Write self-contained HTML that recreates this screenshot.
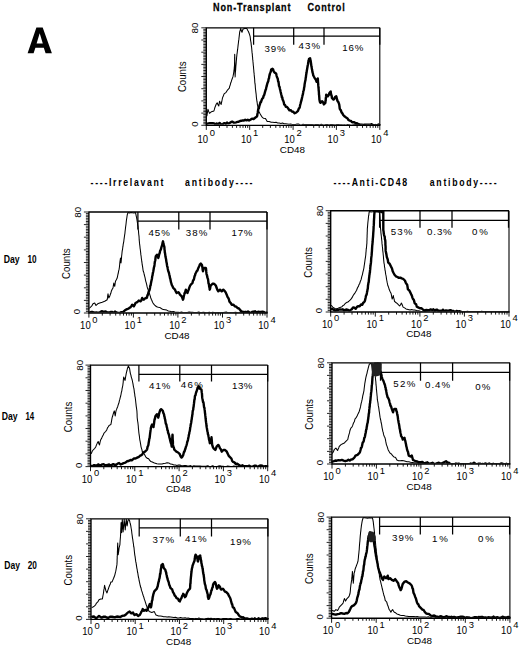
<!DOCTYPE html>
<html><head><meta charset="utf-8"><style>
html,body{margin:0;padding:0;background:#fff;}
svg{display:block;}
text{font-family:"Liberation Sans", sans-serif;fill:#000;}
</style></head><body>
<svg width="520" height="648" viewBox="0 0 520 648">
<rect width="520" height="648" fill="#fff"/>
<defs><clipPath id="cp0"><rect x="205.3" y="27.6" width="175.5" height="97.2"/></clipPath><clipPath id="cp1"><rect x="87.9" y="211.8" width="180.1" height="100.7"/></clipPath><clipPath id="cp2"><rect x="329.7" y="210.5" width="180.3" height="101.0"/></clipPath><clipPath id="cp3"><rect x="89.5" y="364.9" width="179.2" height="101.2"/></clipPath><clipPath id="cp4"><rect x="331.0" y="362.6" width="179.8" height="100.9"/></clipPath><clipPath id="cp5"><rect x="90.0" y="518.6" width="178.9" height="100.3"/></clipPath><clipPath id="cp6"><rect x="330.6" y="516.9" width="180.3" height="100.8"/></clipPath></defs>
<path d="M206.3,27.8 H379.8 M206.3,27.2 V125.3 M205.7,125.3 H380.4" stroke="#000" stroke-width="1.35" fill="none"/>
<path d="M379.8,27.8 V125.3" stroke="#000" stroke-width="1.1" fill="none"/>
<path d="M206.3,125.3 v4.6 M219.4,125.3 v2.6 M227.0,125.3 v2.6 M232.4,125.3 v2.6 M236.6,125.3 v2.6 M240.1,125.3 v2.6 M243.0,125.3 v2.6 M245.5,125.3 v2.6 M247.7,125.3 v2.6 M249.7,125.3 v4.6 M262.7,125.3 v2.6 M270.4,125.3 v2.6 M275.8,125.3 v2.6 M280.0,125.3 v2.6 M283.4,125.3 v2.6 M286.3,125.3 v2.6 M288.8,125.3 v2.6 M291.1,125.3 v2.6 M293.1,125.3 v4.6 M306.1,125.3 v2.6 M313.7,125.3 v2.6 M319.2,125.3 v2.6 M323.4,125.3 v2.6 M326.8,125.3 v2.6 M329.7,125.3 v2.6 M332.2,125.3 v2.6 M334.4,125.3 v2.6 M336.4,125.3 v4.6 M349.5,125.3 v2.6 M357.1,125.3 v2.6 M362.5,125.3 v2.6 M366.7,125.3 v2.6 M370.2,125.3 v2.6 M373.1,125.3 v2.6 M375.6,125.3 v2.6 M377.8,125.3 v2.6 M379.8,125.3 v4.6" stroke="#000" stroke-width="0.9" fill="none"/>
<path d="M206.3,27.8 h-5 M206.3,29.3 h-3.0 M206.3,30.8 h-3.0 M206.3,32.4 h-3.0 M206.3,33.9 h-3.0 M206.3,35.4 h-3.0 M206.3,36.9 h-3.0 M206.3,38.5 h-3.0 M206.3,40.0 h-5 M206.3,41.5 h-3.0 M206.3,43.0 h-3.0 M206.3,44.6 h-3.0 M206.3,46.1 h-3.0 M206.3,47.6 h-3.0 M206.3,49.1 h-3.0 M206.3,50.7 h-3.0 M206.3,52.2 h-5 M206.3,53.7 h-3.0 M206.3,55.2 h-3.0 M206.3,56.7 h-3.0 M206.3,58.3 h-3.0 M206.3,59.8 h-3.0 M206.3,61.3 h-3.0 M206.3,62.8 h-3.0 M206.3,64.4 h-5 M206.3,65.9 h-3.0 M206.3,67.4 h-3.0 M206.3,68.9 h-3.0 M206.3,70.5 h-3.0 M206.3,72.0 h-3.0 M206.3,73.5 h-3.0 M206.3,75.0 h-3.0 M206.3,76.5 h-5 M206.3,78.1 h-3.0 M206.3,79.6 h-3.0 M206.3,81.1 h-3.0 M206.3,82.6 h-3.0 M206.3,84.2 h-3.0 M206.3,85.7 h-3.0 M206.3,87.2 h-3.0 M206.3,88.7 h-5 M206.3,90.3 h-3.0 M206.3,91.8 h-3.0 M206.3,93.3 h-3.0 M206.3,94.8 h-3.0 M206.3,96.4 h-3.0 M206.3,97.9 h-3.0 M206.3,99.4 h-3.0 M206.3,100.9 h-5 M206.3,102.4 h-3.0 M206.3,104.0 h-3.0 M206.3,105.5 h-3.0 M206.3,107.0 h-3.0 M206.3,108.5 h-3.0 M206.3,110.1 h-3.0 M206.3,111.6 h-3.0 M206.3,113.1 h-5 M206.3,114.6 h-3.0 M206.3,116.2 h-3.0 M206.3,117.7 h-3.0 M206.3,119.2 h-3.0 M206.3,120.7 h-3.0 M206.3,122.3 h-3.0 M206.3,123.8 h-3.0 M206.3,125.3 h-5" stroke="#000" stroke-width="0.85" fill="none"/>
<path d="M253.6,36.2 H379.8 M253.6,27.8 V44.8 M293.7,27.8 V44.8 M324.0,27.8 V44.8 M379.8,27.8 V44.8" stroke="#000" stroke-width="1.25" fill="none"/>
<text transform="translate(264.50,51.70) scale(1.0,1)" x="0" y="0" font-size="9.7" font-weight="normal" textLength="21.10" lengthAdjust="spacing" fill="#222">39%</text>
<text transform="translate(298.40,49.00) scale(1.0,1)" x="0" y="0" font-size="9.7" font-weight="normal" textLength="21.70" lengthAdjust="spacing" fill="#222">43%</text>
<text transform="translate(342.30,50.90) scale(1.0,1)" x="0" y="0" font-size="9.7" font-weight="normal" textLength="21.10" lengthAdjust="spacing" fill="#222">16%</text>
<text x="208.1" y="142.6" font-size="10.5" font-weight="normal" text-anchor="end" textLength="10.6" lengthAdjust="spacingAndGlyphs" >10</text>
<text x="209.7" y="136.2" font-size="9.4" font-weight="normal" text-anchor="start" >0</text>
<text x="251.5" y="142.6" font-size="10.5" font-weight="normal" text-anchor="end" textLength="10.6" lengthAdjust="spacingAndGlyphs" >10</text>
<text x="253.1" y="136.2" font-size="9.4" font-weight="normal" text-anchor="start" >1</text>
<text x="294.9" y="142.6" font-size="10.5" font-weight="normal" text-anchor="end" textLength="10.6" lengthAdjust="spacingAndGlyphs" >10</text>
<text x="296.4" y="136.2" font-size="9.4" font-weight="normal" text-anchor="start" >2</text>
<text x="338.2" y="142.6" font-size="10.5" font-weight="normal" text-anchor="end" textLength="10.6" lengthAdjust="spacingAndGlyphs" >10</text>
<text x="339.8" y="136.2" font-size="9.4" font-weight="normal" text-anchor="start" >3</text>
<text x="381.6" y="142.6" font-size="10.5" font-weight="normal" text-anchor="end" textLength="10.6" lengthAdjust="spacingAndGlyphs" >10</text>
<text x="383.2" y="136.2" font-size="9.4" font-weight="normal" text-anchor="start" >4</text>
<text x="292.4" y="153.1" font-size="9.9" font-weight="normal" text-anchor="middle" textLength="25.2" lengthAdjust="spacingAndGlyphs" >CD48</text>
<text transform="translate(186.2,76.8) rotate(-90)" font-size="10.6" text-anchor="middle" textLength="30.6" lengthAdjust="spacingAndGlyphs">Counts</text>
<text transform="translate(197.8,28.0) rotate(-90)" font-size="9.9" text-anchor="middle" textLength="10.9" lengthAdjust="spacingAndGlyphs">80</text>
<text transform="translate(197.6,124.0) rotate(-90)" font-size="9.6" text-anchor="middle">0</text>
<path d="M88.9,212.0 H267.0 M88.9,211.4 V313.0 M88.3,313.0 H267.6" stroke="#000" stroke-width="1.35" fill="none"/>
<path d="M267.0,212.0 V313.0" stroke="#000" stroke-width="1.1" fill="none"/>
<path d="M88.9,313.0 v4.6 M102.3,313.0 v2.6 M110.1,313.0 v2.6 M115.7,313.0 v2.6 M120.0,313.0 v2.6 M123.5,313.0 v2.6 M126.5,313.0 v2.6 M129.1,313.0 v2.6 M131.4,313.0 v2.6 M133.4,313.0 v4.6 M146.8,313.0 v2.6 M154.7,313.0 v2.6 M160.2,313.0 v2.6 M164.5,313.0 v2.6 M168.1,313.0 v2.6 M171.1,313.0 v2.6 M173.6,313.0 v2.6 M175.9,313.0 v2.6 M177.9,313.0 v4.6 M191.4,313.0 v2.6 M199.2,313.0 v2.6 M204.8,313.0 v2.6 M209.1,313.0 v2.6 M212.6,313.0 v2.6 M215.6,313.0 v2.6 M218.2,313.0 v2.6 M220.4,313.0 v2.6 M222.5,313.0 v4.6 M235.9,313.0 v2.6 M243.7,313.0 v2.6 M249.3,313.0 v2.6 M253.6,313.0 v2.6 M257.1,313.0 v2.6 M260.1,313.0 v2.6 M262.7,313.0 v2.6 M265.0,313.0 v2.6 M267.0,313.0 v4.6" stroke="#000" stroke-width="0.9" fill="none"/>
<path d="M88.9,212.0 h-5 M88.9,213.6 h-3.0 M88.9,215.2 h-3.0 M88.9,216.7 h-3.0 M88.9,218.3 h-3.0 M88.9,219.9 h-3.0 M88.9,221.5 h-3.0 M88.9,223.0 h-3.0 M88.9,224.6 h-5 M88.9,226.2 h-3.0 M88.9,227.8 h-3.0 M88.9,229.4 h-3.0 M88.9,230.9 h-3.0 M88.9,232.5 h-3.0 M88.9,234.1 h-3.0 M88.9,235.7 h-3.0 M88.9,237.2 h-5 M88.9,238.8 h-3.0 M88.9,240.4 h-3.0 M88.9,242.0 h-3.0 M88.9,243.6 h-3.0 M88.9,245.1 h-3.0 M88.9,246.7 h-3.0 M88.9,248.3 h-3.0 M88.9,249.9 h-5 M88.9,251.5 h-3.0 M88.9,253.0 h-3.0 M88.9,254.6 h-3.0 M88.9,256.2 h-3.0 M88.9,257.8 h-3.0 M88.9,259.3 h-3.0 M88.9,260.9 h-3.0 M88.9,262.5 h-5 M88.9,264.1 h-3.0 M88.9,265.7 h-3.0 M88.9,267.2 h-3.0 M88.9,268.8 h-3.0 M88.9,270.4 h-3.0 M88.9,272.0 h-3.0 M88.9,273.5 h-3.0 M88.9,275.1 h-5 M88.9,276.7 h-3.0 M88.9,278.3 h-3.0 M88.9,279.9 h-3.0 M88.9,281.4 h-3.0 M88.9,283.0 h-3.0 M88.9,284.6 h-3.0 M88.9,286.2 h-3.0 M88.9,287.8 h-5 M88.9,289.3 h-3.0 M88.9,290.9 h-3.0 M88.9,292.5 h-3.0 M88.9,294.1 h-3.0 M88.9,295.6 h-3.0 M88.9,297.2 h-3.0 M88.9,298.8 h-3.0 M88.9,300.4 h-5 M88.9,302.0 h-3.0 M88.9,303.5 h-3.0 M88.9,305.1 h-3.0 M88.9,306.7 h-3.0 M88.9,308.3 h-3.0 M88.9,309.8 h-3.0 M88.9,311.4 h-3.0 M88.9,313.0 h-5" stroke="#000" stroke-width="0.85" fill="none"/>
<path d="M137.9,221.0 H267.0 M137.9,212.0 V229.5 M178.8,212.0 V229.5 M210.0,212.0 V229.5 M267.0,212.0 V229.5" stroke="#000" stroke-width="1.25" fill="none"/>
<text transform="translate(148.50,236.00) scale(1.0,1)" x="0" y="0" font-size="9.7" font-weight="normal" textLength="21.30" lengthAdjust="spacing" fill="#222">45%</text>
<text transform="translate(185.85,235.50) scale(1.0,1)" x="0" y="0" font-size="9.7" font-weight="normal" textLength="21.65" lengthAdjust="spacing" fill="#222">38%</text>
<text transform="translate(231.60,235.50) scale(1.0,1)" x="0" y="0" font-size="9.7" font-weight="normal" textLength="20.90" lengthAdjust="spacing" fill="#222">17%</text>
<text x="90.7" y="329.1" font-size="10.5" font-weight="normal" text-anchor="end" textLength="10.6" lengthAdjust="spacingAndGlyphs" >10</text>
<text x="92.3" y="322.7" font-size="9.4" font-weight="normal" text-anchor="start" >0</text>
<text x="135.2" y="329.1" font-size="10.5" font-weight="normal" text-anchor="end" textLength="10.6" lengthAdjust="spacingAndGlyphs" >10</text>
<text x="136.8" y="322.7" font-size="9.4" font-weight="normal" text-anchor="start" >1</text>
<text x="179.8" y="329.1" font-size="10.5" font-weight="normal" text-anchor="end" textLength="10.6" lengthAdjust="spacingAndGlyphs" >10</text>
<text x="181.3" y="322.7" font-size="9.4" font-weight="normal" text-anchor="start" >2</text>
<text x="224.3" y="329.1" font-size="10.5" font-weight="normal" text-anchor="end" textLength="10.6" lengthAdjust="spacingAndGlyphs" >10</text>
<text x="225.9" y="322.7" font-size="9.4" font-weight="normal" text-anchor="start" >3</text>
<text x="268.8" y="329.1" font-size="10.5" font-weight="normal" text-anchor="end" textLength="10.6" lengthAdjust="spacingAndGlyphs" >10</text>
<text x="270.4" y="322.7" font-size="9.4" font-weight="normal" text-anchor="start" >4</text>
<text x="177.0" y="338.8" font-size="9.9" font-weight="normal" text-anchor="middle" textLength="25.2" lengthAdjust="spacingAndGlyphs" >CD48</text>
<text transform="translate(70.1,263.6) rotate(-90)" font-size="10.6" text-anchor="middle" textLength="30.6" lengthAdjust="spacingAndGlyphs">Counts</text>
<text transform="translate(81.2,212.2) rotate(-90)" font-size="9.9" text-anchor="middle" textLength="10.9" lengthAdjust="spacingAndGlyphs">80</text>
<text transform="translate(80.2,311.7) rotate(-90)" font-size="9.6" text-anchor="middle">0</text>
<path d="M330.7,210.7 H509.0 M330.7,210.1 V312.0 M330.1,312.0 H509.6" stroke="#000" stroke-width="1.35" fill="none"/>
<path d="M509.0,210.7 V312.0" stroke="#000" stroke-width="1.1" fill="none"/>
<path d="M330.7,312.0 v4.6 M344.1,312.0 v2.6 M352.0,312.0 v2.6 M357.5,312.0 v2.6 M361.9,312.0 v2.6 M365.4,312.0 v2.6 M368.4,312.0 v2.6 M371.0,312.0 v2.6 M373.2,312.0 v2.6 M375.3,312.0 v4.6 M388.7,312.0 v2.6 M396.5,312.0 v2.6 M402.1,312.0 v2.6 M406.4,312.0 v2.6 M410.0,312.0 v2.6 M412.9,312.0 v2.6 M415.5,312.0 v2.6 M417.8,312.0 v2.6 M419.9,312.0 v4.6 M433.3,312.0 v2.6 M441.1,312.0 v2.6 M446.7,312.0 v2.6 M451.0,312.0 v2.6 M454.5,312.0 v2.6 M457.5,312.0 v2.6 M460.1,312.0 v2.6 M462.4,312.0 v2.6 M464.4,312.0 v4.6 M477.8,312.0 v2.6 M485.7,312.0 v2.6 M491.3,312.0 v2.6 M495.6,312.0 v2.6 M499.1,312.0 v2.6 M502.1,312.0 v2.6 M504.7,312.0 v2.6 M507.0,312.0 v2.6 M509.0,312.0 v4.6" stroke="#000" stroke-width="0.9" fill="none"/>
<path d="M330.7,210.7 h-5 M330.7,212.3 h-3.0 M330.7,213.9 h-3.0 M330.7,215.4 h-3.0 M330.7,217.0 h-3.0 M330.7,218.6 h-3.0 M330.7,220.2 h-3.0 M330.7,221.8 h-3.0 M330.7,223.4 h-5 M330.7,224.9 h-3.0 M330.7,226.5 h-3.0 M330.7,228.1 h-3.0 M330.7,229.7 h-3.0 M330.7,231.3 h-3.0 M330.7,232.9 h-3.0 M330.7,234.4 h-3.0 M330.7,236.0 h-5 M330.7,237.6 h-3.0 M330.7,239.2 h-3.0 M330.7,240.8 h-3.0 M330.7,242.4 h-3.0 M330.7,243.9 h-3.0 M330.7,245.5 h-3.0 M330.7,247.1 h-3.0 M330.7,248.7 h-5 M330.7,250.3 h-3.0 M330.7,251.9 h-3.0 M330.7,253.4 h-3.0 M330.7,255.0 h-3.0 M330.7,256.6 h-3.0 M330.7,258.2 h-3.0 M330.7,259.8 h-3.0 M330.7,261.4 h-5 M330.7,262.9 h-3.0 M330.7,264.5 h-3.0 M330.7,266.1 h-3.0 M330.7,267.7 h-3.0 M330.7,269.3 h-3.0 M330.7,270.8 h-3.0 M330.7,272.4 h-3.0 M330.7,274.0 h-5 M330.7,275.6 h-3.0 M330.7,277.2 h-3.0 M330.7,278.8 h-3.0 M330.7,280.3 h-3.0 M330.7,281.9 h-3.0 M330.7,283.5 h-3.0 M330.7,285.1 h-3.0 M330.7,286.7 h-5 M330.7,288.3 h-3.0 M330.7,289.8 h-3.0 M330.7,291.4 h-3.0 M330.7,293.0 h-3.0 M330.7,294.6 h-3.0 M330.7,296.2 h-3.0 M330.7,297.8 h-3.0 M330.7,299.3 h-5 M330.7,300.9 h-3.0 M330.7,302.5 h-3.0 M330.7,304.1 h-3.0 M330.7,305.7 h-3.0 M330.7,307.3 h-3.0 M330.7,308.8 h-3.0 M330.7,310.4 h-3.0 M330.7,312.0 h-5" stroke="#000" stroke-width="0.85" fill="none"/>
<path d="M379.6,220.3 H508.5 M379.6,210.7 V227.7 M420.0,210.7 V227.7 M452.0,210.7 V227.7 M508.5,210.7 V227.7" stroke="#000" stroke-width="1.25" fill="none"/>
<text transform="translate(390.85,235.00) scale(1.0,1)" x="0" y="0" font-size="9.7" font-weight="normal" textLength="21.65" lengthAdjust="spacing" fill="#222">53%</text>
<text transform="translate(427.10,235.00) scale(1.0,1)" x="0" y="0" font-size="9.7" font-weight="normal" textLength="24.65" lengthAdjust="spacing" fill="#222">0.3%</text>
<text transform="translate(472.10,235.00) scale(1.0,1)" x="0" y="0" font-size="9.7" font-weight="normal" textLength="15.90" lengthAdjust="spacing" fill="#222">0%</text>
<text x="332.5" y="327.8" font-size="10.5" font-weight="normal" text-anchor="end" textLength="10.6" lengthAdjust="spacingAndGlyphs" >10</text>
<text x="334.1" y="321.4" font-size="9.4" font-weight="normal" text-anchor="start" >0</text>
<text x="377.1" y="327.8" font-size="10.5" font-weight="normal" text-anchor="end" textLength="10.6" lengthAdjust="spacingAndGlyphs" >10</text>
<text x="378.7" y="321.4" font-size="9.4" font-weight="normal" text-anchor="start" >1</text>
<text x="421.7" y="327.8" font-size="10.5" font-weight="normal" text-anchor="end" textLength="10.6" lengthAdjust="spacingAndGlyphs" >10</text>
<text x="423.2" y="321.4" font-size="9.4" font-weight="normal" text-anchor="start" >2</text>
<text x="466.2" y="327.8" font-size="10.5" font-weight="normal" text-anchor="end" textLength="10.6" lengthAdjust="spacingAndGlyphs" >10</text>
<text x="467.8" y="321.4" font-size="9.4" font-weight="normal" text-anchor="start" >3</text>
<text x="510.8" y="327.8" font-size="10.5" font-weight="normal" text-anchor="end" textLength="10.6" lengthAdjust="spacingAndGlyphs" >10</text>
<text x="512.4" y="321.4" font-size="9.4" font-weight="normal" text-anchor="start" >4</text>
<text x="418.8" y="337.3" font-size="9.9" font-weight="normal" text-anchor="middle" textLength="25.2" lengthAdjust="spacingAndGlyphs" >CD48</text>
<text transform="translate(311.9,262.5) rotate(-90)" font-size="10.6" text-anchor="middle" textLength="30.6" lengthAdjust="spacingAndGlyphs">Counts</text>
<text transform="translate(323.0,210.9) rotate(-90)" font-size="9.9" text-anchor="middle" textLength="10.9" lengthAdjust="spacingAndGlyphs">80</text>
<text transform="translate(322.0,310.7) rotate(-90)" font-size="9.6" text-anchor="middle">0</text>
<path d="M90.5,365.1 H267.7 M90.5,364.5 V466.6 M89.9,466.6 H268.3" stroke="#000" stroke-width="1.35" fill="none"/>
<path d="M267.7,365.1 V466.6" stroke="#000" stroke-width="1.1" fill="none"/>
<path d="M90.5,466.6 v4.6 M103.8,466.6 v2.6 M111.6,466.6 v2.6 M117.2,466.6 v2.6 M121.5,466.6 v2.6 M125.0,466.6 v2.6 M127.9,466.6 v2.6 M130.5,466.6 v2.6 M132.8,466.6 v2.6 M134.8,466.6 v4.6 M148.1,466.6 v2.6 M155.9,466.6 v2.6 M161.5,466.6 v2.6 M165.8,466.6 v2.6 M169.3,466.6 v2.6 M172.2,466.6 v2.6 M174.8,466.6 v2.6 M177.1,466.6 v2.6 M179.1,466.6 v4.6 M192.4,466.6 v2.6 M200.2,466.6 v2.6 M205.8,466.6 v2.6 M210.1,466.6 v2.6 M213.6,466.6 v2.6 M216.5,466.6 v2.6 M219.1,466.6 v2.6 M221.4,466.6 v2.6 M223.4,466.6 v4.6 M236.7,466.6 v2.6 M244.5,466.6 v2.6 M250.1,466.6 v2.6 M254.4,466.6 v2.6 M257.9,466.6 v2.6 M260.8,466.6 v2.6 M263.4,466.6 v2.6 M265.7,466.6 v2.6 M267.7,466.6 v4.6" stroke="#000" stroke-width="0.9" fill="none"/>
<path d="M90.5,365.1 h-5 M90.5,366.7 h-3.0 M90.5,368.3 h-3.0 M90.5,369.9 h-3.0 M90.5,371.4 h-3.0 M90.5,373.0 h-3.0 M90.5,374.6 h-3.0 M90.5,376.2 h-3.0 M90.5,377.8 h-5 M90.5,379.4 h-3.0 M90.5,381.0 h-3.0 M90.5,382.5 h-3.0 M90.5,384.1 h-3.0 M90.5,385.7 h-3.0 M90.5,387.3 h-3.0 M90.5,388.9 h-3.0 M90.5,390.5 h-5 M90.5,392.1 h-3.0 M90.5,393.6 h-3.0 M90.5,395.2 h-3.0 M90.5,396.8 h-3.0 M90.5,398.4 h-3.0 M90.5,400.0 h-3.0 M90.5,401.6 h-3.0 M90.5,403.2 h-5 M90.5,404.7 h-3.0 M90.5,406.3 h-3.0 M90.5,407.9 h-3.0 M90.5,409.5 h-3.0 M90.5,411.1 h-3.0 M90.5,412.7 h-3.0 M90.5,414.3 h-3.0 M90.5,415.9 h-5 M90.5,417.4 h-3.0 M90.5,419.0 h-3.0 M90.5,420.6 h-3.0 M90.5,422.2 h-3.0 M90.5,423.8 h-3.0 M90.5,425.4 h-3.0 M90.5,427.0 h-3.0 M90.5,428.5 h-5 M90.5,430.1 h-3.0 M90.5,431.7 h-3.0 M90.5,433.3 h-3.0 M90.5,434.9 h-3.0 M90.5,436.5 h-3.0 M90.5,438.1 h-3.0 M90.5,439.6 h-3.0 M90.5,441.2 h-5 M90.5,442.8 h-3.0 M90.5,444.4 h-3.0 M90.5,446.0 h-3.0 M90.5,447.6 h-3.0 M90.5,449.2 h-3.0 M90.5,450.7 h-3.0 M90.5,452.3 h-3.0 M90.5,453.9 h-5 M90.5,455.5 h-3.0 M90.5,457.1 h-3.0 M90.5,458.7 h-3.0 M90.5,460.3 h-3.0 M90.5,461.8 h-3.0 M90.5,463.4 h-3.0 M90.5,465.0 h-3.0 M90.5,466.6 h-5" stroke="#000" stroke-width="0.85" fill="none"/>
<path d="M138.9,374.4 H267.7 M138.9,365.1 V381.6 M179.8,365.1 V381.6 M211.5,365.1 V381.6 M267.7,365.1 V381.6" stroke="#000" stroke-width="1.25" fill="none"/>
<text transform="translate(149.10,388.75) scale(1.0,1)" x="0" y="0" font-size="9.7" font-weight="normal" textLength="21.40" lengthAdjust="spacing" fill="#222">41%</text>
<text transform="translate(180.85,387.50) scale(1.0,1)" x="0" y="0" font-size="9.7" font-weight="normal" textLength="22.15" lengthAdjust="spacing" fill="#222">46%</text>
<text transform="translate(232.10,388.75) scale(1.0,1)" x="0" y="0" font-size="9.7" font-weight="normal" textLength="20.40" lengthAdjust="spacing" fill="#222">13%</text>
<text x="92.3" y="482.7" font-size="10.5" font-weight="normal" text-anchor="end" textLength="10.6" lengthAdjust="spacingAndGlyphs" >10</text>
<text x="93.9" y="476.3" font-size="9.4" font-weight="normal" text-anchor="start" >0</text>
<text x="136.6" y="482.7" font-size="10.5" font-weight="normal" text-anchor="end" textLength="10.6" lengthAdjust="spacingAndGlyphs" >10</text>
<text x="138.2" y="476.3" font-size="9.4" font-weight="normal" text-anchor="start" >1</text>
<text x="180.9" y="482.7" font-size="10.5" font-weight="normal" text-anchor="end" textLength="10.6" lengthAdjust="spacingAndGlyphs" >10</text>
<text x="182.5" y="476.3" font-size="9.4" font-weight="normal" text-anchor="start" >2</text>
<text x="225.2" y="482.7" font-size="10.5" font-weight="normal" text-anchor="end" textLength="10.6" lengthAdjust="spacingAndGlyphs" >10</text>
<text x="226.8" y="476.3" font-size="9.4" font-weight="normal" text-anchor="start" >3</text>
<text x="269.5" y="482.7" font-size="10.5" font-weight="normal" text-anchor="end" textLength="10.6" lengthAdjust="spacingAndGlyphs" >10</text>
<text x="271.1" y="476.3" font-size="9.4" font-weight="normal" text-anchor="start" >4</text>
<text x="178.5" y="492.3" font-size="9.9" font-weight="normal" text-anchor="middle" textLength="25.2" lengthAdjust="spacingAndGlyphs" >CD48</text>
<text transform="translate(71.7,417.0) rotate(-90)" font-size="10.6" text-anchor="middle" textLength="30.6" lengthAdjust="spacingAndGlyphs">Counts</text>
<text transform="translate(82.8,365.3) rotate(-90)" font-size="9.9" text-anchor="middle" textLength="10.9" lengthAdjust="spacingAndGlyphs">80</text>
<text transform="translate(81.8,465.3) rotate(-90)" font-size="9.6" text-anchor="middle">0</text>
<path d="M332.0,362.8 H509.8 M332.0,362.2 V464.0 M331.4,464.0 H510.4" stroke="#000" stroke-width="1.35" fill="none"/>
<path d="M509.8,362.8 V464.0" stroke="#000" stroke-width="1.1" fill="none"/>
<path d="M332.0,464.0 v4.6 M345.4,464.0 v2.6 M353.2,464.0 v2.6 M358.8,464.0 v2.6 M363.1,464.0 v2.6 M366.6,464.0 v2.6 M369.6,464.0 v2.6 M372.1,464.0 v2.6 M374.4,464.0 v2.6 M376.4,464.0 v4.6 M389.8,464.0 v2.6 M397.7,464.0 v2.6 M403.2,464.0 v2.6 M407.5,464.0 v2.6 M411.0,464.0 v2.6 M414.0,464.0 v2.6 M416.6,464.0 v2.6 M418.9,464.0 v2.6 M420.9,464.0 v4.6 M434.3,464.0 v2.6 M442.1,464.0 v2.6 M447.7,464.0 v2.6 M452.0,464.0 v2.6 M455.5,464.0 v2.6 M458.5,464.0 v2.6 M461.0,464.0 v2.6 M463.3,464.0 v2.6 M465.4,464.0 v4.6 M478.7,464.0 v2.6 M486.6,464.0 v2.6 M492.1,464.0 v2.6 M496.4,464.0 v2.6 M499.9,464.0 v2.6 M502.9,464.0 v2.6 M505.5,464.0 v2.6 M507.8,464.0 v2.6 M509.8,464.0 v4.6" stroke="#000" stroke-width="0.9" fill="none"/>
<path d="M332.0,362.8 h-5 M332.0,364.4 h-3.0 M332.0,366.0 h-3.0 M332.0,367.5 h-3.0 M332.0,369.1 h-3.0 M332.0,370.7 h-3.0 M332.0,372.3 h-3.0 M332.0,373.9 h-3.0 M332.0,375.4 h-5 M332.0,377.0 h-3.0 M332.0,378.6 h-3.0 M332.0,380.2 h-3.0 M332.0,381.8 h-3.0 M332.0,383.4 h-3.0 M332.0,384.9 h-3.0 M332.0,386.5 h-3.0 M332.0,388.1 h-5 M332.0,389.7 h-3.0 M332.0,391.3 h-3.0 M332.0,392.8 h-3.0 M332.0,394.4 h-3.0 M332.0,396.0 h-3.0 M332.0,397.6 h-3.0 M332.0,399.2 h-3.0 M332.0,400.8 h-5 M332.0,402.3 h-3.0 M332.0,403.9 h-3.0 M332.0,405.5 h-3.0 M332.0,407.1 h-3.0 M332.0,408.7 h-3.0 M332.0,410.2 h-3.0 M332.0,411.8 h-3.0 M332.0,413.4 h-5 M332.0,415.0 h-3.0 M332.0,416.6 h-3.0 M332.0,418.1 h-3.0 M332.0,419.7 h-3.0 M332.0,421.3 h-3.0 M332.0,422.9 h-3.0 M332.0,424.5 h-3.0 M332.0,426.1 h-5 M332.0,427.6 h-3.0 M332.0,429.2 h-3.0 M332.0,430.8 h-3.0 M332.0,432.4 h-3.0 M332.0,434.0 h-3.0 M332.0,435.5 h-3.0 M332.0,437.1 h-3.0 M332.0,438.7 h-5 M332.0,440.3 h-3.0 M332.0,441.9 h-3.0 M332.0,443.4 h-3.0 M332.0,445.0 h-3.0 M332.0,446.6 h-3.0 M332.0,448.2 h-3.0 M332.0,449.8 h-3.0 M332.0,451.4 h-5 M332.0,452.9 h-3.0 M332.0,454.5 h-3.0 M332.0,456.1 h-3.0 M332.0,457.7 h-3.0 M332.0,459.3 h-3.0 M332.0,460.8 h-3.0 M332.0,462.4 h-3.0 M332.0,464.0 h-5" stroke="#000" stroke-width="0.85" fill="none"/>
<path d="M380.5,372.4 H509.6 M380.5,362.8 V380.8 M420.5,362.8 V380.8 M452.6,362.8 V380.8 M509.6,362.8 V380.8" stroke="#000" stroke-width="1.25" fill="none"/>
<text transform="translate(393.35,387.00) scale(1.0,1)" x="0" y="0" font-size="9.7" font-weight="normal" textLength="22.15" lengthAdjust="spacing" fill="#222">52%</text>
<text transform="translate(425.00,388.40) scale(1.0,1)" x="0" y="0" font-size="9.7" font-weight="normal" textLength="25.10" lengthAdjust="spacing" fill="#222">0.4%</text>
<text transform="translate(475.30,390.00) scale(1.0,1)" x="0" y="0" font-size="9.7" font-weight="normal" textLength="15.20" lengthAdjust="spacing" fill="#222">0%</text>
<text x="333.8" y="480.3" font-size="10.5" font-weight="normal" text-anchor="end" textLength="10.6" lengthAdjust="spacingAndGlyphs" >10</text>
<text x="335.4" y="473.9" font-size="9.4" font-weight="normal" text-anchor="start" >0</text>
<text x="378.2" y="480.3" font-size="10.5" font-weight="normal" text-anchor="end" textLength="10.6" lengthAdjust="spacingAndGlyphs" >10</text>
<text x="379.8" y="473.9" font-size="9.4" font-weight="normal" text-anchor="start" >1</text>
<text x="422.7" y="480.3" font-size="10.5" font-weight="normal" text-anchor="end" textLength="10.6" lengthAdjust="spacingAndGlyphs" >10</text>
<text x="424.3" y="473.9" font-size="9.4" font-weight="normal" text-anchor="start" >2</text>
<text x="467.2" y="480.3" font-size="10.5" font-weight="normal" text-anchor="end" textLength="10.6" lengthAdjust="spacingAndGlyphs" >10</text>
<text x="468.8" y="473.9" font-size="9.4" font-weight="normal" text-anchor="start" >3</text>
<text x="511.6" y="480.3" font-size="10.5" font-weight="normal" text-anchor="end" textLength="10.6" lengthAdjust="spacingAndGlyphs" >10</text>
<text x="513.2" y="473.9" font-size="9.4" font-weight="normal" text-anchor="start" >4</text>
<text x="419.1" y="490.2" font-size="9.9" font-weight="normal" text-anchor="middle" textLength="25.2" lengthAdjust="spacingAndGlyphs" >CD48</text>
<text transform="translate(313.2,414.5) rotate(-90)" font-size="10.6" text-anchor="middle" textLength="30.6" lengthAdjust="spacingAndGlyphs">Counts</text>
<text transform="translate(324.3,363.0) rotate(-90)" font-size="9.9" text-anchor="middle" textLength="10.9" lengthAdjust="spacingAndGlyphs">80</text>
<text transform="translate(323.3,462.7) rotate(-90)" font-size="9.6" text-anchor="middle">0</text>
<path d="M91.0,518.8 H267.9 M91.0,518.2 V619.4 M90.4,619.4 H268.5" stroke="#000" stroke-width="1.35" fill="none"/>
<path d="M267.9,518.8 V619.4" stroke="#000" stroke-width="1.1" fill="none"/>
<path d="M91.0,619.4 v4.6 M104.3,619.4 v2.6 M112.1,619.4 v2.6 M117.6,619.4 v2.6 M121.9,619.4 v2.6 M125.4,619.4 v2.6 M128.4,619.4 v2.6 M130.9,619.4 v2.6 M133.2,619.4 v2.6 M135.2,619.4 v4.6 M148.5,619.4 v2.6 M156.3,619.4 v2.6 M161.9,619.4 v2.6 M166.1,619.4 v2.6 M169.6,619.4 v2.6 M172.6,619.4 v2.6 M175.2,619.4 v2.6 M177.4,619.4 v2.6 M179.4,619.4 v4.6 M192.8,619.4 v2.6 M200.6,619.4 v2.6 M206.1,619.4 v2.6 M210.4,619.4 v2.6 M213.9,619.4 v2.6 M216.8,619.4 v2.6 M219.4,619.4 v2.6 M221.7,619.4 v2.6 M223.7,619.4 v4.6 M237.0,619.4 v2.6 M244.8,619.4 v2.6 M250.3,619.4 v2.6 M254.6,619.4 v2.6 M258.1,619.4 v2.6 M261.0,619.4 v2.6 M263.6,619.4 v2.6 M265.9,619.4 v2.6 M267.9,619.4 v4.6" stroke="#000" stroke-width="0.9" fill="none"/>
<path d="M91.0,518.8 h-5 M91.0,520.4 h-3.0 M91.0,521.9 h-3.0 M91.0,523.5 h-3.0 M91.0,525.1 h-3.0 M91.0,526.7 h-3.0 M91.0,528.2 h-3.0 M91.0,529.8 h-3.0 M91.0,531.4 h-5 M91.0,532.9 h-3.0 M91.0,534.5 h-3.0 M91.0,536.1 h-3.0 M91.0,537.7 h-3.0 M91.0,539.2 h-3.0 M91.0,540.8 h-3.0 M91.0,542.4 h-3.0 M91.0,543.9 h-5 M91.0,545.5 h-3.0 M91.0,547.1 h-3.0 M91.0,548.7 h-3.0 M91.0,550.2 h-3.0 M91.0,551.8 h-3.0 M91.0,553.4 h-3.0 M91.0,555.0 h-3.0 M91.0,556.5 h-5 M91.0,558.1 h-3.0 M91.0,559.7 h-3.0 M91.0,561.2 h-3.0 M91.0,562.8 h-3.0 M91.0,564.4 h-3.0 M91.0,566.0 h-3.0 M91.0,567.5 h-3.0 M91.0,569.1 h-5 M91.0,570.7 h-3.0 M91.0,572.2 h-3.0 M91.0,573.8 h-3.0 M91.0,575.4 h-3.0 M91.0,577.0 h-3.0 M91.0,578.5 h-3.0 M91.0,580.1 h-3.0 M91.0,581.7 h-5 M91.0,583.2 h-3.0 M91.0,584.8 h-3.0 M91.0,586.4 h-3.0 M91.0,588.0 h-3.0 M91.0,589.5 h-3.0 M91.0,591.1 h-3.0 M91.0,592.7 h-3.0 M91.0,594.2 h-5 M91.0,595.8 h-3.0 M91.0,597.4 h-3.0 M91.0,599.0 h-3.0 M91.0,600.5 h-3.0 M91.0,602.1 h-3.0 M91.0,603.7 h-3.0 M91.0,605.3 h-3.0 M91.0,606.8 h-5 M91.0,608.4 h-3.0 M91.0,610.0 h-3.0 M91.0,611.5 h-3.0 M91.0,613.1 h-3.0 M91.0,614.7 h-3.0 M91.0,616.3 h-3.0 M91.0,617.8 h-3.0 M91.0,619.4 h-5" stroke="#000" stroke-width="0.85" fill="none"/>
<path d="M139.2,527.9 H267.9 M139.2,518.8 V536.6 M180.3,518.8 V536.6 M211.5,518.8 V536.6 M267.9,518.8 V536.6" stroke="#000" stroke-width="1.25" fill="none"/>
<text transform="translate(152.60,542.50) scale(1.0,1)" x="0" y="0" font-size="9.7" font-weight="normal" textLength="21.65" lengthAdjust="spacing" fill="#222">37%</text>
<text transform="translate(185.10,542.00) scale(1.0,1)" x="0" y="0" font-size="9.7" font-weight="normal" textLength="21.65" lengthAdjust="spacing" fill="#222">41%</text>
<text transform="translate(230.10,545.00) scale(1.0,1)" x="0" y="0" font-size="9.7" font-weight="normal" textLength="20.90" lengthAdjust="spacing" fill="#222">19%</text>
<text x="92.8" y="634.9" font-size="10.5" font-weight="normal" text-anchor="end" textLength="10.6" lengthAdjust="spacingAndGlyphs" >10</text>
<text x="94.4" y="628.5" font-size="9.4" font-weight="normal" text-anchor="start" >0</text>
<text x="137.0" y="634.9" font-size="10.5" font-weight="normal" text-anchor="end" textLength="10.6" lengthAdjust="spacingAndGlyphs" >10</text>
<text x="138.6" y="628.5" font-size="9.4" font-weight="normal" text-anchor="start" >1</text>
<text x="181.2" y="634.9" font-size="10.5" font-weight="normal" text-anchor="end" textLength="10.6" lengthAdjust="spacingAndGlyphs" >10</text>
<text x="182.8" y="628.5" font-size="9.4" font-weight="normal" text-anchor="start" >2</text>
<text x="225.5" y="634.9" font-size="10.5" font-weight="normal" text-anchor="end" textLength="10.6" lengthAdjust="spacingAndGlyphs" >10</text>
<text x="227.1" y="628.5" font-size="9.4" font-weight="normal" text-anchor="start" >3</text>
<text x="269.7" y="634.9" font-size="10.5" font-weight="normal" text-anchor="end" textLength="10.6" lengthAdjust="spacingAndGlyphs" >10</text>
<text x="271.3" y="628.5" font-size="9.4" font-weight="normal" text-anchor="start" >4</text>
<text x="178.7" y="644.8" font-size="9.9" font-weight="normal" text-anchor="middle" textLength="25.2" lengthAdjust="spacingAndGlyphs" >CD48</text>
<text transform="translate(72.2,570.2) rotate(-90)" font-size="10.6" text-anchor="middle" textLength="30.6" lengthAdjust="spacingAndGlyphs">Counts</text>
<text transform="translate(83.3,519.0) rotate(-90)" font-size="9.9" text-anchor="middle" textLength="10.9" lengthAdjust="spacingAndGlyphs">80</text>
<text transform="translate(82.3,618.1) rotate(-90)" font-size="9.6" text-anchor="middle">0</text>
<path d="M331.6,517.1 H509.9 M331.6,516.5 V618.2 M331.0,618.2 H510.5" stroke="#000" stroke-width="1.35" fill="none"/>
<path d="M509.9,517.1 V618.2" stroke="#000" stroke-width="1.1" fill="none"/>
<path d="M331.6,618.2 v4.6 M345.0,618.2 v2.6 M352.9,618.2 v2.6 M358.4,618.2 v2.6 M362.8,618.2 v2.6 M366.3,618.2 v2.6 M369.3,618.2 v2.6 M371.9,618.2 v2.6 M374.1,618.2 v2.6 M376.2,618.2 v4.6 M389.6,618.2 v2.6 M397.4,618.2 v2.6 M403.0,618.2 v2.6 M407.3,618.2 v2.6 M410.9,618.2 v2.6 M413.8,618.2 v2.6 M416.4,618.2 v2.6 M418.7,618.2 v2.6 M420.8,618.2 v4.6 M434.2,618.2 v2.6 M442.0,618.2 v2.6 M447.6,618.2 v2.6 M451.9,618.2 v2.6 M455.4,618.2 v2.6 M458.4,618.2 v2.6 M461.0,618.2 v2.6 M463.3,618.2 v2.6 M465.3,618.2 v4.6 M478.7,618.2 v2.6 M486.6,618.2 v2.6 M492.2,618.2 v2.6 M496.5,618.2 v2.6 M500.0,618.2 v2.6 M503.0,618.2 v2.6 M505.6,618.2 v2.6 M507.9,618.2 v2.6 M509.9,618.2 v4.6" stroke="#000" stroke-width="0.9" fill="none"/>
<path d="M331.6,517.1 h-5 M331.6,518.7 h-3.0 M331.6,520.3 h-3.0 M331.6,521.8 h-3.0 M331.6,523.4 h-3.0 M331.6,525.0 h-3.0 M331.6,526.6 h-3.0 M331.6,528.2 h-3.0 M331.6,529.7 h-5 M331.6,531.3 h-3.0 M331.6,532.9 h-3.0 M331.6,534.5 h-3.0 M331.6,536.1 h-3.0 M331.6,537.6 h-3.0 M331.6,539.2 h-3.0 M331.6,540.8 h-3.0 M331.6,542.4 h-5 M331.6,544.0 h-3.0 M331.6,545.5 h-3.0 M331.6,547.1 h-3.0 M331.6,548.7 h-3.0 M331.6,550.3 h-3.0 M331.6,551.9 h-3.0 M331.6,553.4 h-3.0 M331.6,555.0 h-5 M331.6,556.6 h-3.0 M331.6,558.2 h-3.0 M331.6,559.8 h-3.0 M331.6,561.3 h-3.0 M331.6,562.9 h-3.0 M331.6,564.5 h-3.0 M331.6,566.1 h-3.0 M331.6,567.7 h-5 M331.6,569.2 h-3.0 M331.6,570.8 h-3.0 M331.6,572.4 h-3.0 M331.6,574.0 h-3.0 M331.6,575.5 h-3.0 M331.6,577.1 h-3.0 M331.6,578.7 h-3.0 M331.6,580.3 h-5 M331.6,581.9 h-3.0 M331.6,583.4 h-3.0 M331.6,585.0 h-3.0 M331.6,586.6 h-3.0 M331.6,588.2 h-3.0 M331.6,589.8 h-3.0 M331.6,591.3 h-3.0 M331.6,592.9 h-5 M331.6,594.5 h-3.0 M331.6,596.1 h-3.0 M331.6,597.7 h-3.0 M331.6,599.2 h-3.0 M331.6,600.8 h-3.0 M331.6,602.4 h-3.0 M331.6,604.0 h-3.0 M331.6,605.6 h-5 M331.6,607.1 h-3.0 M331.6,608.7 h-3.0 M331.6,610.3 h-3.0 M331.6,611.9 h-3.0 M331.6,613.5 h-3.0 M331.6,615.0 h-3.0 M331.6,616.6 h-3.0 M331.6,618.2 h-5" stroke="#000" stroke-width="0.85" fill="none"/>
<path d="M379.6,526.4 H509.6 M379.6,517.1 V534.6 M420.3,517.1 V534.6 M452.6,517.1 V534.6 M509.6,517.1 V534.6" stroke="#000" stroke-width="1.25" fill="none"/>
<text transform="translate(392.10,541.25) scale(1.0,1)" x="0" y="0" font-size="9.7" font-weight="normal" textLength="21.40" lengthAdjust="spacing" fill="#222">39%</text>
<text transform="translate(431.90,542.00) scale(1.0,1)" x="0" y="0" font-size="9.7" font-weight="normal" textLength="15.90" lengthAdjust="spacing" fill="#222">1%</text>
<text transform="translate(478.10,542.00) scale(1.0,1)" x="0" y="0" font-size="9.7" font-weight="normal" textLength="15.90" lengthAdjust="spacing" fill="#222">0%</text>
<text x="333.4" y="633.9" font-size="10.5" font-weight="normal" text-anchor="end" textLength="10.6" lengthAdjust="spacingAndGlyphs" >10</text>
<text x="335.0" y="627.5" font-size="9.4" font-weight="normal" text-anchor="start" >0</text>
<text x="378.0" y="633.9" font-size="10.5" font-weight="normal" text-anchor="end" textLength="10.6" lengthAdjust="spacingAndGlyphs" >10</text>
<text x="379.6" y="627.5" font-size="9.4" font-weight="normal" text-anchor="start" >1</text>
<text x="422.6" y="633.9" font-size="10.5" font-weight="normal" text-anchor="end" textLength="10.6" lengthAdjust="spacingAndGlyphs" >10</text>
<text x="424.1" y="627.5" font-size="9.4" font-weight="normal" text-anchor="start" >2</text>
<text x="467.1" y="633.9" font-size="10.5" font-weight="normal" text-anchor="end" textLength="10.6" lengthAdjust="spacingAndGlyphs" >10</text>
<text x="468.7" y="627.5" font-size="9.4" font-weight="normal" text-anchor="start" >3</text>
<text x="511.7" y="633.9" font-size="10.5" font-weight="normal" text-anchor="end" textLength="10.6" lengthAdjust="spacingAndGlyphs" >10</text>
<text x="513.3" y="627.5" font-size="9.4" font-weight="normal" text-anchor="start" >4</text>
<text x="419.5" y="643.8" font-size="9.9" font-weight="normal" text-anchor="middle" textLength="25.2" lengthAdjust="spacingAndGlyphs" >CD48</text>
<text transform="translate(312.8,568.8) rotate(-90)" font-size="10.6" text-anchor="middle" textLength="30.6" lengthAdjust="spacingAndGlyphs">Counts</text>
<text transform="translate(323.9,517.3) rotate(-90)" font-size="9.9" text-anchor="middle" textLength="10.9" lengthAdjust="spacingAndGlyphs">80</text>
<text transform="translate(322.9,616.9) rotate(-90)" font-size="9.6" text-anchor="middle">0</text>
<path d="M27.6,53.2 L36.4,27.4 L42.7,27.4 L51.9,53.2 L45.6,53.2 L43.8,47.7 L35.4,47.7 L33.6,53.2 Z M39.7,33.2 L36.6,43.6 L42.8,43.6 Z" fill="#000" fill-rule="evenodd"/>
<text transform="translate(213.00,11.20) scale(0.84,1)" x="0" y="0" font-size="10.8" font-weight="bold" textLength="92.26" lengthAdjust="spacing" stroke="#000" stroke-width="0.25">Non-Transplant</text>
<text transform="translate(307.40,11.20) scale(0.84,1)" x="0" y="0" font-size="10.8" font-weight="bold" textLength="44.40" lengthAdjust="spacing" stroke="#000" stroke-width="0.25">Control</text>
<text transform="translate(90.60,186.20) scale(0.84,1)" x="0" y="0" font-size="10.4" font-weight="bold" textLength="86.79" lengthAdjust="spacing" >----Irrelavant</text>
<text transform="translate(185.10,186.20) scale(0.84,1)" x="0" y="0" font-size="10.4" font-weight="bold" textLength="80.24" lengthAdjust="spacing" >antibody----</text>
<text transform="translate(333.40,185.50) scale(0.84,1)" x="0" y="0" font-size="10.4" font-weight="bold" textLength="87.74" lengthAdjust="spacing" >----Anti-CD48</text>
<text transform="translate(429.80,185.50) scale(0.84,1)" x="0" y="0" font-size="10.4" font-weight="bold" textLength="79.52" lengthAdjust="spacing" >antibody----</text>
<text x="3.8" y="263" font-size="11" font-weight="bold" text-anchor="start" textLength="15.9" lengthAdjust="spacingAndGlyphs" >Day</text>
<text x="27.4" y="263" font-size="11" font-weight="bold" text-anchor="start" textLength="9.1" lengthAdjust="spacingAndGlyphs" >10</text>
<text x="1.8" y="420.0" font-size="11" font-weight="bold" text-anchor="start" textLength="15.9" lengthAdjust="spacingAndGlyphs" >Day</text>
<text x="25.4" y="420.0" font-size="11" font-weight="bold" text-anchor="start" textLength="8.8" lengthAdjust="spacingAndGlyphs" >14</text>
<text x="4.3" y="568.9" font-size="11" font-weight="bold" text-anchor="start" textLength="15.7" lengthAdjust="spacingAndGlyphs" >Day</text>
<text x="27.7" y="568.9" font-size="11" font-weight="bold" text-anchor="start" textLength="9.2" lengthAdjust="spacingAndGlyphs" >20</text>
<g clip-path="url(#cp0)"><polyline points="206.9,115.8 207.2,113.9 207.4,112.6 207.7,110.8 207.9,109.3 208.7,111.4 209.5,113.3 211.5,111.7 213.9,110.9 214.4,109.4 215.0,107.2 215.5,106.0 216.3,104.0 217.2,102.8 218.0,104.7 218.8,106.0 219.1,104.2 219.3,102.6 219.6,101.2 220.4,103.2 221.2,104.4 221.5,102.7 221.8,101.5 222.2,99.5 222.5,97.9 223.3,96.0 224.1,93.9 226.1,92.3 227.7,89.8 229.3,88.2 229.7,86.3 230.2,85.1 230.6,83.3 231.1,82.0 231.7,80.1 232.3,78.5 232.9,76.9 233.2,75.5 233.5,73.8 233.8,72.0 234.0,70.0 234.2,69.0 234.3,67.2 234.5,65.5 234.5,63.7 234.6,61.8 234.6,61.0 234.6,59.0 234.6,57.6 234.7,56.2 234.7,54.2 234.7,55.9 234.8,57.6 234.8,58.6 234.8,60.5 234.8,61.7 234.9,63.7 234.9,65.1 234.9,65.9 234.9,67.5 235.0,69.1 235.0,71.3 235.0,72.3 235.0,74.0 235.1,75.2 235.1,76.9 235.2,75.3 235.3,73.5 235.4,71.9 235.6,70.4 235.7,68.8 235.8,67.1 235.9,65.8 236.1,64.0 236.2,62.6 236.3,61.0 236.5,59.5 236.6,57.4 236.8,55.9 237.0,53.8 237.2,52.8 237.4,50.9 237.6,49.7 237.8,48.0 238.0,46.1 238.2,44.4 238.4,43.0 238.6,40.9 238.8,39.9 239.0,38.0 239.2,36.4 239.4,34.6 239.6,32.7 239.8,31.5 240.2,30.3 240.7,28.4 241.3,30.8 242.0,32.3 242.6,30.3 243.1,29.0 244.7,28.4 246.8,28.4 247.6,30.2 248.4,31.5 249.0,33.0 249.5,34.4 250.1,36.3 250.3,37.7 250.5,39.8 250.8,41.5 251.0,42.4 251.2,44.4 251.4,46.1 251.6,47.3 251.8,49.5 251.9,50.8 252.1,52.9 252.3,54.2 252.4,56.2 252.6,57.4 252.7,59.5 252.9,60.5 253.0,61.9 253.2,64.0 253.3,65.5 253.5,66.7 253.6,68.5 253.8,70.3 253.9,72.1 254.1,73.3 254.2,74.9 254.4,76.9 254.6,78.8 254.7,80.0 254.8,82.2 255.0,83.7 255.2,84.9 255.3,86.5 255.4,88.2 255.6,89.8 255.8,91.6 256.0,93.1 256.2,94.7 256.3,96.4 256.5,98.3 256.7,99.6 256.9,101.2 257.2,102.8 257.4,104.6 257.7,105.8 257.9,107.5 258.2,109.3 259.0,111.7 259.8,113.3 260.8,115.0 261.7,116.6 263.3,118.2 265.5,118.6 266.4,120.0 267.2,121.4 269.2,121.4 271.2,122.2 272.8,122.3 274.4,122.6 276.1,122.3 277.7,123.0 279.3,123.1 280.9,123.4 282.5,123.0 284.2,123.7 285.8,123.7 287.4,123.9 289.0,124.2 290.6,124.0 292.3,124.4 293.9,124.6 295.5,124.5 297.0,124.1 298.5,124.1 300.0,124.7 301.5,124.9 303.0,124.3 304.5,124.5 306.0,124.6 307.5,124.4 309.0,124.4 310.5,124.4 312.0,124.5 313.5,124.7 315.0,124.6 316.6,124.4 318.1,124.5 319.7,124.9 321.2,124.2 322.8,124.7 324.4,124.9 325.9,124.5 327.5,124.5 329.1,125.0 330.6,124.5 332.2,124.5 333.8,124.7 335.3,124.9 336.9,124.4 338.4,124.6 340.0,124.8 341.5,124.7 343.0,125.1 344.5,124.8 346.0,125.2 347.5,124.5 349.0,124.7 350.5,125.0 352.0,125.2 353.5,124.8 355.0,124.6 356.5,124.5 358.0,124.9 359.5,124.6 361.0,125.2 362.5,125.2 364.0,124.6 365.5,124.7 367.0,125.2 368.5,125.1 370.0,125.2 371.5,124.8 373.0,124.6 374.5,124.8 376.0,125.2 377.5,124.8 379.0,125.0" fill="none" stroke="#000" stroke-width="1.05" stroke-linejoin="round" stroke-linecap="round"/></g>
<g clip-path="url(#cp0)"><polyline points="206.9,123.9 208.4,123.4 210.0,123.2 211.5,123.1 212.8,123.2 214.1,123.4 215.4,124.5 216.7,123.4 218.0,124.2 219.6,123.0 221.2,124.4 222.8,124.1 224.4,123.1 225.7,123.8 227.0,122.6 228.3,123.4 229.6,123.1 230.9,122.2 232.2,121.6 233.5,122.5 234.8,122.6 236.1,122.3 237.4,121.9 238.7,121.7 240.0,121.0 241.3,120.8 242.6,120.4 243.9,120.6 245.2,119.7 246.5,120.4 247.8,119.7 249.1,120.5 250.4,119.8 252.0,118.6 253.6,119.0 255.5,117.5 256.9,116.6 257.2,115.9 257.4,114.0 257.7,113.0 257.9,111.5 258.2,109.3 258.8,108.4 259.3,106.2 259.9,104.4 260.4,102.2 261.0,102.2 261.5,100.4 262.3,98.6 263.1,97.9 263.6,95.9 264.2,95.0 264.7,93.1 265.1,91.7 265.5,90.1 265.9,89.6 266.3,87.4 266.7,86.2 267.1,84.3 267.6,82.7 268.0,81.7 268.3,81.1 268.6,79.1 269.0,78.3 269.3,76.2 269.6,75.2 270.0,73.3 270.4,72.5 270.8,71.6 271.2,69.6 272.5,68.8 273.1,69.4 273.6,71.2 274.8,72.8 276.1,73.6 276.6,75.8 277.2,77.6 277.7,78.5 278.0,80.4 278.2,81.8 278.5,81.7 278.8,84.1 279.0,85.9 279.3,86.6 279.6,87.1 279.9,88.8 280.3,90.1 280.6,91.8 280.9,93.1 281.2,94.3 281.6,95.7 281.9,97.5 282.3,97.4 282.6,99.6 283.1,100.4 283.7,102.1 284.2,104.4 285.0,104.9 285.8,106.8 287.0,106.9 288.2,108.5 289.4,110.2 290.7,110.1 291.9,111.5 293.1,111.7 294.7,113.3 296.3,112.5 298.0,110.9 298.8,108.6 299.6,107.7 299.9,106.4 300.2,104.8 300.6,103.5 300.9,102.2 301.2,101.2 301.5,100.2 301.8,98.8 302.2,97.0 302.5,95.4 302.8,94.7 303.1,93.0 303.3,91.3 303.6,90.7 303.9,89.7 304.1,87.7 304.4,86.6 304.6,84.4 304.8,83.2 305.0,82.1 305.2,81.1 305.5,80.0 305.7,77.8 305.9,77.2 306.1,75.2 306.3,74.0 306.6,72.3 306.8,70.8 307.0,69.7 307.2,68.6 307.5,66.7 307.7,65.5 308.0,64.5 308.2,62.8 308.5,61.1 308.7,60.4 309.0,59.0 310.1,58.2 310.4,60.0 310.6,60.4 310.9,62.5 311.1,64.0 311.4,66.3 311.6,67.1 311.9,69.2 312.1,69.6 312.4,71.9 312.7,73.0 312.9,73.4 313.2,75.2 314.0,76.8 314.9,78.5 315.7,79.4 316.5,81.7 317.1,80.7 317.8,78.5 317.9,80.1 318.0,81.9 318.1,83.1 318.2,84.2 318.3,85.7 318.4,86.6 318.5,88.0 318.6,88.5 318.7,90.7 318.8,90.9 318.9,92.5 319.0,94.9 319.1,94.9 319.2,96.3 319.3,97.6 319.4,99.6 319.9,101.9 320.5,102.8 322.2,101.2 323.0,102.2 323.8,104.4 325.4,102.8 325.5,100.6 325.7,100.7 325.8,98.1 325.9,98.0 326.1,96.4 326.2,94.7 327.8,96.3 328.6,95.3 329.4,93.1 330.7,91.5 330.9,93.6 331.2,94.2 331.4,95.9 331.7,95.8 331.9,97.9 333.5,99.6 334.3,98.8 335.1,97.1 336.3,96.3 336.7,98.0 337.2,100.0 337.6,101.2 338.4,102.1 339.2,104.4 339.5,106.5 339.7,108.4 340.0,109.3 340.8,110.1 341.6,112.5 342.4,113.4 343.2,115.0 344.8,116.6 346.1,117.5 347.3,118.2 348.5,120.0 349.7,120.6 350.9,120.9 352.1,122.2 353.8,122.1 355.4,123.1 357.0,123.2 358.6,124.2 360.2,124.7 361.9,124.7 363.3,125.2 364.7,124.6 366.1,124.6 367.4,124.7 368.8,124.6 370.2,124.8 371.6,124.2 373.0,125.0 374.4,125.6 375.8,125.0 377.1,125.6 378.5,124.6 379.9,125.6 381.3,125.3" fill="none" stroke="#000" stroke-width="2.4" stroke-linejoin="round" stroke-linecap="round"/></g>
<g clip-path="url(#cp1)"><polyline points="89.7,308.0 91.3,306.3 92.2,305.3 93.0,303.8 94.7,303.0 96.0,305.5 97.7,303.8 99.7,303.0 102.2,302.2 104.7,301.3 107.2,299.7 107.5,297.9 107.7,295.8 108.0,293.8 108.4,295.9 108.8,298.0 109.7,296.3 110.2,294.8 110.8,293.3 111.3,291.3 112.2,289.3 113.0,288.0 113.3,286.0 113.5,284.9 113.8,283.0 114.2,285.0 114.7,286.3 115.0,284.6 115.2,282.9 115.5,281.3 116.3,279.8 117.2,278.0 117.6,276.1 117.9,274.5 118.3,273.0 118.6,271.1 119.0,269.7 119.3,268.0 119.5,266.2 119.7,264.4 119.8,263.1 120.0,261.3 120.2,260.1 120.5,258.0 120.7,259.5 120.8,261.5 121.0,263.0 121.2,261.3 121.3,260.0 121.5,258.1 121.6,256.2 121.8,254.7 122.0,252.8 122.2,250.9 122.5,249.7 122.7,248.0 123.0,246.2 123.2,244.4 123.5,242.8 123.8,241.3 124.0,239.5 124.2,238.2 124.5,236.0 124.7,234.7 124.9,233.5 125.1,231.3 125.3,229.8 125.5,228.0 125.7,226.3 125.9,225.0 126.1,223.3 126.3,221.3 126.5,219.7 126.8,218.0 127.0,216.5 127.3,214.7 128.0,212.6 129.5,212.9 131.0,212.5 132.5,212.8 134.0,213.0 135.5,212.6 135.9,214.4 136.3,216.3 136.6,217.7 136.9,219.4 137.2,221.3 137.5,223.2 137.7,224.8 138.0,226.3 138.2,228.4 138.3,230.0 138.5,231.1 138.6,232.7 138.8,234.7 139.0,236.1 139.1,237.8 139.2,239.9 139.4,241.7 139.5,243.4 139.7,244.7 139.9,246.1 140.1,248.3 140.3,249.5 140.5,251.3 140.7,252.9 140.9,254.9 141.1,256.0 141.3,258.0 141.5,259.3 141.8,261.7 142.0,262.8 142.2,264.7 142.5,266.2 142.8,268.1 143.0,269.8 143.3,271.3 143.8,272.5 144.2,274.5 144.7,276.3 145.1,277.9 145.4,279.6 145.8,281.3 146.2,282.7 146.7,284.7 147.1,286.7 147.5,288.0 148.1,289.6 148.6,291.4 149.2,293.0 149.7,294.3 150.3,296.1 150.8,298.0 151.4,299.5 151.9,300.5 152.5,302.2 153.8,304.2 155.0,305.5 156.7,306.7 158.3,307.2 160.0,307.6 161.7,308.8 163.3,309.6 165.0,309.7 166.7,310.1 168.3,311.0 170.0,311.3 171.7,311.7 173.3,311.5 175.0,312.0 176.6,312.2 178.3,312.2 179.9,312.5 181.4,312.0 183.0,312.5 184.6,312.7 186.2,312.4 187.7,312.3 189.3,312.0 190.9,312.3 192.4,312.2 194.0,312.6 195.6,312.6 197.1,312.5 198.7,312.1 200.3,312.6 201.9,312.6 203.4,312.2 205.0,312.5 206.5,312.9 208.1,312.6 209.6,312.2 211.1,312.9 212.6,312.2 214.2,312.4 215.7,312.7 217.2,312.6 218.7,312.6 220.2,312.7 221.8,312.5 223.3,312.4 224.8,312.2 226.3,312.1 227.9,312.7 229.4,312.8 230.9,312.6 232.4,312.8 234.0,312.4 235.5,312.3 237.0,312.4 238.6,312.9 240.1,312.1 241.6,312.6 243.1,312.3 244.7,312.8 246.2,312.4 247.7,312.4 249.2,312.5 250.8,312.6 252.3,312.8 253.8,312.4 255.3,312.9 256.9,312.2 258.4,312.4 259.9,312.2 261.4,312.2 262.9,312.8 264.5,312.8 266.0,312.6" fill="none" stroke="#000" stroke-width="1.05" stroke-linejoin="round" stroke-linecap="round"/></g>
<g clip-path="url(#cp1)"><polyline points="89.7,312.6 91.0,312.0 92.3,312.0 93.7,312.3 95.0,312.9 96.3,312.4 97.6,312.8 99.0,312.6 100.3,312.1 101.7,311.2 103.0,311.7 104.3,311.7 105.7,311.4 107.0,312.2 108.4,312.4 109.7,312.4 111.0,311.9 112.3,312.0 113.7,312.9 115.0,311.6 116.3,312.4 118.0,312.9 119.6,313.0 121.3,312.2 123.0,312.2 124.7,310.5 126.3,309.4 128.0,308.8 129.2,308.1 130.5,307.2 131.3,306.1 132.2,304.7 133.8,306.3 134.7,304.9 135.5,303.0 137.2,302.2 138.8,300.5 140.5,301.3 141.3,300.5 142.2,298.0 143.8,299.7 145.5,298.0 146.7,298.0 147.1,297.1 147.5,295.1 147.9,294.9 148.3,293.0 148.7,291.7 149.2,290.7 149.6,289.7 150.0,288.0 150.3,285.7 150.6,285.7 150.8,284.1 151.1,282.5 151.4,281.1 151.7,279.7 152.0,278.2 152.2,276.3 152.5,275.6 152.8,273.3 153.0,272.7 153.3,271.3 153.5,270.1 153.8,268.3 154.0,267.1 154.3,266.4 154.5,264.9 154.8,262.1 155.0,261.3 155.3,260.2 155.5,258.2 155.8,256.3 157.0,254.7 157.7,255.5 158.3,258.0 158.8,256.1 159.2,254.2 159.7,253.0 160.2,250.6 160.8,249.7 161.2,248.1 161.7,246.3 162.1,245.4 162.6,242.6 163.0,241.3 163.4,243.6 163.8,245.0 164.2,246.3 164.4,247.0 164.5,249.6 164.7,250.5 164.8,252.4 165.0,253.0 165.3,255.1 165.5,256.8 165.8,258.0 166.1,259.4 166.4,261.9 166.7,263.0 167.0,265.2 167.2,266.4 167.5,267.0 167.8,269.0 168.0,269.9 168.3,271.3 168.6,271.9 169.0,273.2 169.3,274.6 169.7,276.1 170.0,278.0 170.3,278.7 170.7,280.7 171.0,282.4 171.4,283.4 171.7,284.7 172.5,286.2 173.3,288.0 175.0,289.7 175.8,291.6 176.7,293.0 178.3,292.2 179.2,293.1 180.0,294.7 181.7,296.3 182.3,297.9 183.0,299.7 183.4,298.5 183.8,296.2 184.2,294.7 184.6,292.9 185.0,292.9 185.4,291.3 185.8,289.7 186.7,291.1 187.5,293.0 187.9,291.5 188.3,290.6 188.8,289.4 189.2,288.0 190.0,285.9 190.8,284.7 192.5,283.0 192.9,280.9 193.3,280.0 193.8,279.8 194.2,278.0 194.6,276.1 195.0,275.4 195.4,273.7 195.8,273.0 196.7,271.2 197.5,270.5 198.1,268.5 198.6,267.5 199.2,266.3 200.0,264.3 200.8,263.5 201.7,264.7 202.0,265.2 202.2,266.6 202.5,268.1 202.7,270.0 203.0,271.3 203.6,268.9 204.2,268.0 205.8,268.0 206.0,268.5 206.2,270.6 206.3,271.9 206.5,273.7 206.7,274.7 207.0,275.2 207.3,277.2 207.7,278.5 208.0,279.1 208.3,281.3 208.5,283.5 208.8,283.6 209.0,284.8 209.2,286.9 209.5,287.7 209.7,289.7 210.1,288.5 210.4,286.6 210.8,285.5 212.5,283.8 213.8,283.6 215.0,284.7 215.8,285.5 216.7,288.0 217.5,290.1 218.3,291.3 220.0,289.7 221.7,291.3 223.3,289.7 225.0,291.3 225.8,292.6 226.7,294.7 227.5,296.9 228.3,298.0 228.9,299.3 229.4,301.6 230.0,302.2 230.8,303.1 231.7,304.7 233.3,304.7 235.0,306.3 236.2,306.7 237.5,308.0 238.8,308.4 240.0,309.7 241.2,311.3 242.5,311.7 243.9,312.1 245.3,311.8 246.7,312.2 248.0,311.4 249.3,312.3 250.7,312.7 252.0,312.0 253.3,311.7 255.0,311.3 256.7,312.6 258.1,311.8 259.6,311.9 261.0,312.0 262.4,311.8 263.8,311.9 265.3,313.0 266.7,312.7" fill="none" stroke="#000" stroke-width="2.4" stroke-linejoin="round" stroke-linecap="round"/></g>
<g clip-path="url(#cp2)"><polyline points="331.5,305.5 333.0,307.5 335.0,308.5 336.5,308.7 338.0,308.2 340.0,307.4 342.0,306.8 343.1,305.4 344.1,305.0 345.2,303.5 346.5,302.6 347.9,302.0 349.2,300.9 350.3,299.9 351.4,298.6 352.5,296.9 353.3,295.2 354.1,294.1 354.9,293.1 355.7,291.7 356.6,290.3 357.5,287.8 358.4,286.4 359.0,284.6 359.7,283.5 360.4,281.2 361.0,279.9 361.4,278.3 361.7,276.8 362.1,275.6 362.5,274.3 362.9,272.1 363.2,271.1 363.6,269.4 363.9,268.0 364.1,266.4 364.4,264.5 364.6,263.2 364.9,261.0 365.1,259.4 365.4,257.6 365.6,256.2 365.8,254.8 365.9,252.9 366.1,251.1 366.2,249.4 366.4,248.2 366.6,246.5 366.7,244.9 366.9,243.1 366.9,241.5 367.0,240.1 367.0,238.3 367.1,237.2 367.1,235.1 367.2,234.0 367.2,232.8 367.3,231.2 367.3,229.1 367.4,228.0 367.6,225.9 367.7,224.5 367.9,222.3 368.1,220.5 368.3,218.8 368.5,216.5 368.8,215.2 369.0,213.1 369.3,211.5 371.0,211.9 372.8,211.7 374.5,211.4 376.2,211.4 378.0,211.1 379.7,211.5 379.8,213.1 379.9,215.2 380.0,216.5 380.1,217.8 380.1,219.8 380.2,221.1 380.3,222.7 380.4,224.8 380.4,226.1 380.5,228.0 380.6,229.1 380.8,230.7 380.9,232.6 381.1,234.1 381.2,235.1 381.4,236.8 381.6,238.9 381.7,240.0 381.9,241.4 382.0,243.4 382.2,244.9 382.4,246.9 382.6,248.4 382.7,250.2 382.9,251.6 383.1,253.3 383.2,254.6 383.4,256.2 383.5,257.8 383.7,260.1 383.8,261.1 384.0,263.1 384.3,264.3 384.5,266.8 384.8,267.8 385.0,270.1 385.3,271.0 385.5,273.0 385.8,274.7 386.1,276.0 386.4,278.1 386.6,279.5 386.9,281.0 387.2,282.7 387.5,284.0 387.9,285.8 388.4,286.8 388.9,288.4 389.3,289.8 390.1,291.5 391.0,293.2 391.4,294.8 391.8,297.4 392.2,299.0 392.8,297.4 393.3,295.6 393.7,297.8 394.1,299.1 394.5,301.3 395.9,302.5 397.4,303.7 398.5,304.8 399.7,306.0 400.5,304.8 401.4,303.1 402.2,304.7 403.1,307.1 404.6,307.9 406.0,308.9 408.1,309.4 410.1,310.0 411.6,309.6 413.2,310.0 414.7,310.0 416.6,310.6 418.6,310.7 420.5,311.2 422.1,311.5 423.7,311.7 425.2,311.5 426.8,311.9 428.4,312.3 430.0,312.3 431.7,312.3 433.3,312.3 435.0,312.2 436.7,312.3 438.3,312.3 440.0,312.3 441.5,312.3 443.0,312.3 444.5,312.3 446.0,312.3 447.6,312.3 449.1,312.3 450.6,312.3 452.1,312.3 453.6,312.3 455.1,312.3 456.6,312.3 458.1,312.3 459.6,312.3 461.2,312.3 462.7,312.3 464.2,312.3 465.7,312.3 467.2,312.3 468.7,312.3 470.2,312.3 471.7,312.3 473.2,312.3 474.8,312.3 476.3,312.3 477.8,312.3 479.3,312.3 480.8,312.3 482.3,312.3 483.8,312.3 485.3,312.3 486.8,312.3 488.4,312.3 489.9,312.3 491.4,312.3 492.9,312.3 494.4,312.3 495.9,312.3 497.4,312.3 498.9,312.3 500.4,312.3 502.0,312.3 503.5,312.3 505.0,312.3 506.5,312.3 508.0,312.3" fill="none" stroke="#000" stroke-width="1.05" stroke-linejoin="round" stroke-linecap="round"/></g>
<g clip-path="url(#cp2)"><polyline points="331.5,309.0 333.2,309.4 335.0,310.5 336.7,310.1 338.3,309.8 340.0,309.4 341.3,309.6 342.6,309.3 343.9,310.3 345.2,309.8 346.5,309.5 347.9,309.8 349.2,310.6 350.5,310.0 351.8,309.3 353.1,307.4 354.4,307.7 355.7,308.7 357.0,306.9 358.4,306.1 359.7,306.2 361.0,304.4 362.3,304.8 363.2,302.8 364.0,302.3 364.9,300.9 365.2,299.6 365.6,297.7 365.9,296.1 366.2,295.1 366.6,294.8 366.9,293.0 367.1,291.6 367.3,291.2 367.5,289.6 367.8,288.6 368.0,285.6 368.2,284.6 368.4,282.9 368.6,282.5 368.8,281.1 368.9,279.6 369.1,277.8 369.2,277.3 369.4,275.2 369.6,274.3 369.7,272.9 369.9,272.6 370.0,270.6 370.2,269.4 370.3,267.6 370.5,265.9 370.6,265.3 370.7,264.3 370.9,263.1 371.0,262.2 371.1,260.7 371.2,258.4 371.4,256.9 371.5,256.2 371.6,255.4 371.7,254.1 371.8,252.3 371.9,251.6 372.0,249.7 372.1,247.9 372.2,246.4 372.3,244.9 372.4,244.7 372.5,243.1 372.6,242.5 372.7,241.2 372.8,239.1 372.9,238.2 373.0,237.3 373.1,235.8 373.2,234.1 373.3,232.5 373.4,231.3 373.5,230.0 373.6,228.0 373.6,226.6 373.7,226.0 373.8,225.2 373.9,222.9 373.9,221.3 374.0,220.0 374.1,218.3 374.2,217.1 374.2,216.3 374.3,214.2 374.4,213.7 374.5,211.5 376.0,211.1 377.4,211.2 378.9,211.5 380.4,211.3 381.8,212.1 383.3,211.5 383.3,213.4 383.3,214.9 383.3,215.7 383.3,215.9 383.3,218.2 383.3,219.5 383.3,220.7 383.3,221.7 383.3,223.8 383.3,225.5 383.3,225.3 383.3,227.7 383.3,228.4 383.3,230.0 383.6,231.5 383.8,233.6 384.1,235.1 384.4,236.0 384.7,236.6 384.9,239.3 385.2,240.0 385.3,240.9 385.4,242.7 385.4,244.9 385.5,245.5 385.6,246.8 385.6,249.5 385.7,250.9 385.8,251.6 386.1,252.7 386.4,254.3 386.6,255.6 386.9,257.4 387.3,258.2 387.8,259.8 388.2,262.5 388.7,263.1 389.5,263.5 390.2,264.9 391.0,266.6 391.6,267.6 392.1,268.9 392.7,271.2 393.6,273.0 394.5,274.7 395.9,276.3 397.4,277.0 398.9,277.9 400.3,277.6 401.7,278.4 403.1,278.8 404.9,280.5 405.8,282.8 406.6,284.0 407.1,284.6 407.5,286.5 407.9,289.2 408.4,289.8 409.2,290.2 409.9,291.6 410.7,293.2 411.3,294.6 411.9,295.7 412.4,297.6 413.0,299.0 413.6,299.4 414.1,300.9 414.7,303.3 415.3,303.7 416.1,304.2 416.8,306.7 417.6,307.1 419.9,308.3 421.4,308.3 422.8,309.4 424.6,310.6 426.3,310.0 427.8,310.3 429.2,310.3 430.7,309.4 432.1,310.0 433.4,309.3 434.7,310.7 436.1,309.7 437.4,309.8 438.7,311.1 440.0,310.6 441.5,311.2 443.0,309.7 444.5,311.3 446.0,310.4 447.5,310.6 449.0,310.5 450.5,310.1 452.0,311.0 453.5,310.9 455.0,312.1 456.5,310.9 458.0,311.4 459.3,311.2 460.7,311.7 462.0,312.3 463.3,312.1 464.6,312.3 465.9,312.3 467.3,312.0 468.6,312.2 469.9,312.3 471.2,312.3 472.5,312.3 473.8,312.3 475.1,312.3 476.5,312.3 477.8,312.3 479.1,312.3 480.4,312.3 481.7,311.9 483.0,312.3 484.3,312.3 485.7,312.3 487.0,312.3 488.3,312.3 489.6,312.3 490.9,312.3 492.2,312.3 493.5,312.3 494.9,312.3 496.2,312.3 497.5,312.3 498.8,312.3 500.1,312.2 501.4,312.3 502.7,312.3 504.1,312.2 505.4,312.3 506.7,312.3 508.0,312.3" fill="none" stroke="#000" stroke-width="2.4" stroke-linejoin="round" stroke-linecap="round"/></g>
<g clip-path="url(#cp3)"><polyline points="91.4,453.4 92.2,451.3 93.1,450.0 94.8,448.3 95.7,447.0 96.5,444.9 97.3,443.1 98.2,441.5 98.8,443.5 99.5,444.9 99.9,442.9 100.3,441.1 100.7,439.8 101.6,438.4 102.4,436.4 103.2,435.0 104.1,433.0 105.8,431.3 106.7,430.0 107.5,427.9 108.3,426.8 109.2,425.4 110.9,424.5 111.2,422.8 111.5,421.3 111.8,419.4 112.2,417.3 112.7,416.0 113.1,414.3 113.7,412.5 114.3,410.9 114.6,412.3 114.9,414.4 115.2,416.0 115.5,414.1 115.7,412.6 116.0,410.9 116.6,409.4 117.1,407.9 117.7,406.7 118.1,405.1 118.6,403.8 119.0,402.6 119.4,400.7 119.8,399.4 120.2,397.7 120.7,396.0 121.1,394.0 121.4,392.1 121.8,391.0 122.1,388.7 122.5,386.9 122.8,385.5 123.0,383.8 123.2,382.3 123.3,380.3 123.5,378.8 123.7,377.0 124.3,378.5 125.0,380.4 125.3,379.1 125.6,377.0 125.9,375.3 126.2,373.6 126.6,371.9 127.0,370.5 127.4,368.5 128.4,365.9 129.6,368.5 129.9,370.6 130.1,371.9 130.4,373.6 130.9,375.2 131.3,377.1 131.8,378.7 132.2,380.0 132.6,382.0 133.0,383.8 133.3,385.8 133.6,387.4 133.9,388.5 134.2,390.6 134.4,392.6 134.7,393.9 134.9,396.1 135.2,397.4 135.4,399.0 135.6,400.5 135.8,402.5 136.0,404.1 136.2,406.1 136.4,407.4 136.7,409.5 136.9,410.9 137.0,412.8 137.1,414.2 137.1,415.8 137.2,417.7 137.4,419.4 137.6,421.0 137.9,422.7 138.1,424.5 138.3,426.3 138.4,428.2 138.6,429.7 138.7,431.0 138.9,433.0 139.1,434.4 139.4,436.3 139.6,438.2 139.8,439.8 140.1,441.2 140.4,442.8 140.7,444.7 141.0,446.6 141.4,448.1 141.9,449.6 142.3,451.7 144.0,453.4 144.8,455.1 145.7,456.8 147.5,458.5 148.4,458.5 149.7,460.4 150.9,461.5 152.3,462.1 153.8,462.8 155.2,463.2 156.9,463.7 158.6,463.9 160.3,464.1 162.0,463.9 163.7,463.4 165.4,463.3 167.1,462.7 168.8,462.9 170.5,464.1 172.2,464.2 173.9,464.9 175.4,465.0 176.9,465.5 178.4,465.1 179.9,465.1 181.4,465.8 182.9,465.7 184.4,465.4 185.9,465.5 187.4,466.0 189.0,465.9 190.6,465.6 192.2,466.4 193.8,465.8 195.4,465.9 196.9,466.0 198.5,466.1 200.1,466.1 201.7,466.3 203.3,466.3 204.9,466.2 206.4,466.1 207.9,465.8 209.4,466.6 211.0,466.4 212.5,465.8 214.0,466.2 215.5,466.5 217.0,466.7 218.5,465.9 220.0,465.8 221.6,466.2 223.1,466.2 224.6,466.6 226.1,466.6 227.6,466.1 229.1,466.2 230.6,466.4 232.2,466.6 233.7,466.0 235.2,466.2 236.7,465.9 238.2,466.4 239.7,465.9 241.3,466.7 242.8,466.3 244.3,466.4 245.8,466.0 247.3,466.1 248.8,466.3 250.3,466.7 251.9,466.4 253.4,466.2 254.9,466.8 256.4,466.5 257.9,466.4 259.4,466.1 260.9,466.2 262.5,466.7 264.0,466.1 265.5,466.4 267.0,466.4" fill="none" stroke="#000" stroke-width="1.05" stroke-linejoin="round" stroke-linecap="round"/></g>
<g clip-path="url(#cp3)"><polyline points="91.4,466.0 92.8,465.9 94.1,465.1 95.5,465.5 96.8,465.5 98.2,464.4 99.6,465.2 100.9,465.2 102.3,464.4 103.6,464.3 105.0,465.3 106.4,465.1 107.7,464.8 109.1,464.5 110.4,465.6 111.8,464.9 113.3,464.1 114.8,464.8 116.2,464.7 117.7,463.6 119.1,463.0 120.6,464.5 122.0,463.9 123.7,463.1 125.4,462.7 127.0,461.3 128.7,461.0 130.4,460.0 132.1,460.2 133.8,458.5 135.5,458.5 137.2,457.6 138.9,456.8 140.2,455.7 141.5,455.1 142.3,454.4 143.2,452.5 145.0,451.7 146.7,450.0 147.1,449.3 147.6,446.7 148.0,446.0 148.4,444.9 148.6,443.3 148.9,441.5 149.1,440.2 149.3,438.8 149.6,438.2 149.8,436.4 150.0,434.7 150.2,432.9 150.4,431.6 150.5,430.6 150.7,429.4 150.9,427.9 151.5,425.7 152.1,424.5 152.8,426.2 153.5,427.1 153.7,425.1 153.9,424.4 154.1,422.8 154.3,421.1 154.6,419.2 154.9,419.0 155.2,417.1 155.5,416.0 156.9,414.3 157.6,416.1 158.2,417.7 158.5,416.6 158.8,415.4 159.1,413.8 159.4,412.6 160.2,410.1 161.1,409.2 162.8,410.9 163.4,413.1 164.0,414.3 164.3,416.3 164.6,417.0 164.8,418.5 165.1,419.3 165.4,421.1 165.7,423.2 166.1,424.2 166.4,424.7 166.8,427.1 167.1,427.9 167.4,430.1 167.8,430.3 168.1,432.9 168.5,433.3 168.8,434.7 169.1,435.5 169.5,437.8 169.8,438.5 170.2,440.6 170.5,441.5 170.8,442.9 171.2,443.3 171.5,445.4 171.8,446.6 171.9,445.9 172.0,443.9 172.0,442.7 172.1,442.0 172.2,439.9 172.3,438.7 172.3,437.5 172.4,436.6 172.5,434.7 172.6,435.6 172.6,436.9 172.7,439.5 172.8,440.6 172.9,441.6 172.9,444.1 173.0,444.9 173.4,446.9 173.8,447.5 174.3,449.6 174.7,450.0 176.4,451.7 178.1,452.5 179.8,454.2 180.7,456.5 181.5,457.6 182.3,456.8 183.2,455.1 183.6,453.4 184.1,451.7 184.5,451.6 184.9,450.0 185.3,449.1 185.8,447.2 186.2,446.1 186.6,444.9 186.9,443.7 187.3,441.7 187.6,441.2 188.0,439.6 188.3,438.1 188.6,436.5 188.9,434.6 189.2,433.9 189.4,432.1 189.7,431.4 190.0,429.6 190.2,427.6 190.5,426.5 190.7,424.7 191.0,423.6 191.2,422.5 191.5,420.1 191.7,419.4 191.9,417.3 192.1,416.7 192.3,414.9 192.5,414.1 192.6,412.2 192.8,410.7 193.0,410.2 193.2,409.6 193.4,407.5 193.6,406.9 193.8,404.9 194.0,403.4 194.2,401.5 194.3,400.5 194.5,399.3 194.7,399.1 194.9,396.3 195.1,395.7 195.5,395.2 195.9,393.1 196.4,391.8 196.8,390.6 197.4,388.7 197.9,388.6 198.5,386.3 199.3,387.0 200.2,388.9 201.4,389.5 201.6,391.0 201.7,392.2 201.9,393.0 202.0,394.4 202.2,397.2 202.3,398.2 202.5,399.0 202.8,400.7 203.1,402.3 203.4,402.1 203.7,404.1 203.9,405.8 204.1,407.3 204.4,407.7 204.6,409.5 204.8,410.9 205.0,413.2 205.1,413.5 205.3,415.7 205.4,416.1 205.6,418.5 205.7,419.2 205.9,421.1 206.1,422.5 206.3,423.7 206.5,426.0 206.7,427.2 206.9,428.2 207.1,429.6 207.4,431.3 207.7,432.2 207.9,434.2 208.2,434.6 208.5,436.4 208.8,437.8 209.0,439.3 209.3,440.3 209.5,441.0 209.8,443.2 211.0,441.5 211.2,439.5 211.3,439.0 211.5,437.3 211.6,438.3 211.8,440.8 211.9,441.9 212.1,444.2 212.2,444.9 212.9,447.2 213.6,448.3 215.3,450.0 215.9,448.7 216.6,446.6 218.3,444.9 219.2,446.4 220.0,448.3 220.8,449.2 221.7,451.7 223.4,450.0 225.1,450.0 226.8,451.7 227.4,453.1 228.0,454.2 228.8,455.9 229.7,456.8 231.4,458.5 232.2,461.0 233.1,461.9 234.4,462.4 235.7,463.9 237.3,463.8 239.0,464.9 240.7,466.0 242.4,465.3 243.7,466.2 245.0,466.2 246.3,466.2 247.6,466.7 249.0,465.6 250.3,466.3 251.6,466.6 252.9,466.5 254.3,465.7 255.6,465.6 256.9,466.5 258.2,466.9 259.6,465.7 260.9,465.5 262.2,465.6 263.5,466.9 264.9,466.2 266.2,466.3 267.5,466.4" fill="none" stroke="#000" stroke-width="2.4" stroke-linejoin="round" stroke-linecap="round"/></g>
<g clip-path="url(#cp4)"><polyline points="332.5,453.1 333.4,451.8 334.2,449.7 335.9,448.0 336.8,449.4 337.6,450.5 338.2,448.9 338.7,447.9 339.3,446.3 341.0,444.6 342.7,443.7 344.4,442.9 346.1,441.2 347.8,439.5 348.2,437.4 348.6,435.9 349.0,434.4 349.5,432.9 349.9,430.7 350.4,429.3 351.2,427.6 352.1,426.8 352.7,425.4 353.2,423.8 353.8,422.5 354.4,421.5 354.9,419.3 355.5,418.3 356.4,417.3 357.2,415.7 358.0,413.9 358.9,412.3 359.3,411.1 359.8,409.3 360.2,408.0 360.6,406.4 360.9,404.7 361.2,403.2 361.6,401.9 361.9,400.4 362.2,399.2 362.5,397.3 362.8,395.7 363.1,394.5 363.6,392.3 364.0,390.3 364.2,388.2 364.4,386.7 364.6,385.3 364.8,383.5 365.1,381.8 365.4,380.2 365.7,378.4 366.1,376.5 366.6,374.6 367.0,373.3 367.4,371.2 367.8,369.8 368.2,368.2 368.8,365.8 369.4,364.0 370.7,363.4 373.3,364.0 373.6,365.5 373.9,366.7 374.2,368.7 374.5,369.9 374.7,371.7 374.9,373.4 375.1,375.2 375.3,376.7 375.5,378.4 375.6,379.8 375.8,381.2 375.9,382.5 376.0,384.7 376.2,386.0 376.3,387.1 376.4,389.4 376.6,390.6 376.7,392.0 376.9,393.8 377.0,395.3 377.2,396.7 377.3,399.2 377.5,400.4 377.8,401.8 378.1,403.7 378.3,405.9 378.6,406.9 378.9,408.9 379.1,410.6 379.4,412.3 379.6,413.8 379.9,416.1 380.1,417.4 380.4,419.0 380.8,420.4 381.1,422.5 381.5,423.8 381.8,425.9 382.1,427.8 382.5,429.6 382.8,431.4 383.2,432.3 383.5,434.4 384.2,436.3 385.0,437.8 385.4,439.3 385.7,441.2 386.0,442.7 386.4,444.6 387.0,446.1 387.5,447.7 388.1,449.7 389.1,451.5 390.1,453.1 391.4,454.0 392.6,455.6 393.9,456.9 395.2,457.3 396.0,458.2 396.9,459.9 398.6,460.7 400.3,460.7 402.0,460.6 403.7,460.7 405.4,461.2 407.1,461.7 408.8,461.8 410.5,462.3 412.2,462.4 413.9,462.7 415.6,463.1 417.3,462.9 419.0,463.6 420.6,463.9 422.1,463.8 423.7,464.3 425.3,463.6 426.9,463.7 428.4,464.3 430.0,464.3 431.5,464.3 433.0,464.2 434.6,464.3 436.1,464.3 437.6,464.2 439.1,464.3 440.6,464.3 442.2,463.9 443.7,464.1 445.2,464.3 446.7,464.1 448.2,464.3 449.8,464.1 451.3,464.2 452.8,464.3 454.3,464.3 455.8,464.3 457.3,464.3 458.9,464.0 460.4,464.2 461.9,463.9 463.4,464.1 464.9,464.3 466.5,464.3 468.0,464.1 469.5,464.0 471.0,463.9 472.5,464.0 474.1,464.3 475.6,464.1 477.1,464.3 478.6,464.3 480.1,464.2 481.7,464.2 483.2,463.9 484.7,464.3 486.2,464.3 487.7,464.2 489.2,464.3 490.8,464.1 492.3,464.0 493.8,464.1 495.3,464.0 496.8,464.3 498.4,464.3 499.9,464.3 501.4,463.9 502.9,464.3 504.4,464.3 506.0,464.2 507.5,464.3 509.0,464.3" fill="none" stroke="#000" stroke-width="1.05" stroke-linejoin="round" stroke-linecap="round"/></g>
<g clip-path="url(#cp4)"><polyline points="332.5,461.6 333.9,461.2 335.4,460.5 336.8,460.7 338.5,460.2 340.2,460.4 341.9,459.9 343.6,460.6 345.3,461.2 347.0,460.7 348.4,459.7 349.8,460.6 351.2,459.5 352.5,459.4 353.8,458.2 354.6,457.3 355.5,455.6 357.5,454.8 359.2,453.1 359.9,452.3 360.6,449.7 361.0,447.8 361.5,447.6 361.9,446.6 362.3,444.6 362.7,442.6 363.1,442.2 363.6,441.6 364.0,439.5 364.3,437.8 364.7,437.4 365.0,436.2 365.4,433.9 365.7,432.7 366.0,430.7 366.2,429.5 366.5,429.2 366.7,427.1 367.0,425.9 367.2,424.2 367.5,423.1 367.7,422.6 368.0,420.0 368.2,419.1 368.4,416.8 368.5,417.0 368.7,414.4 368.9,413.1 369.1,412.7 369.2,410.0 369.4,408.9 369.5,406.8 369.7,407.0 369.8,404.5 370.0,403.1 370.1,403.1 370.3,400.5 370.4,400.4 370.6,398.0 370.7,397.0 370.9,395.2 371.0,393.7 371.1,392.9 371.3,391.5 371.5,389.8 371.6,388.6 371.7,387.2 371.8,385.3 371.9,384.8 372.1,383.6 372.2,381.8 372.3,380.4 372.4,378.4 372.6,376.3 372.8,375.2 372.9,373.8 373.1,372.3 373.3,371.6 373.5,370.9 373.7,369.3 373.9,367.8 374.1,365.6 375.0,363.4 376.4,363.5 377.8,363.2 379.2,363.4 379.5,364.9 379.8,365.8 380.1,368.2 380.4,370.6 380.6,371.2 380.9,373.3 381.4,374.6 381.8,376.7 382.4,379.2 383.0,380.1 383.6,381.3 384.3,383.5 385.0,385.2 385.3,387.3 385.6,387.6 385.8,389.6 386.1,389.9 386.4,392.0 386.8,394.4 387.1,395.2 387.5,397.0 388.4,398.4 389.2,400.4 389.5,402.0 389.8,403.1 390.1,403.8 390.4,405.5 391.1,406.5 391.8,408.9 392.5,410.7 393.1,412.3 393.7,409.7 394.3,408.9 396.0,408.9 396.3,410.8 396.6,411.2 396.9,412.1 397.2,414.0 397.4,415.1 397.7,416.1 397.9,417.9 398.1,419.7 398.4,420.9 398.6,422.5 398.9,423.6 399.1,424.8 399.4,426.6 399.6,428.4 399.9,429.3 400.1,430.5 400.4,432.5 400.6,433.3 400.9,434.1 401.1,436.1 402.0,437.2 402.8,439.5 404.5,437.8 404.8,439.7 405.1,440.3 405.4,441.4 405.7,442.9 406.0,444.3 406.3,446.2 406.5,446.8 406.8,448.1 407.1,449.7 407.5,450.9 408.0,451.8 408.4,454.2 408.8,455.6 410.5,456.5 411.8,455.6 412.2,457.0 412.6,458.5 413.0,459.9 414.3,460.5 415.6,461.2 417.3,461.5 419.0,462.3 420.7,462.2 422.4,461.9 424.0,463.5 425.7,462.9 427.4,462.3 429.1,463.8 430.8,463.3 432.5,462.8 434.2,464.0 435.9,463.6 437.4,463.1 438.9,462.7 440.5,463.5 442.0,463.4 444.0,462.2 446.0,461.2 447.5,462.6 449.0,462.8 450.5,464.2 452.0,464.3 453.3,464.3 454.7,464.3 456.0,463.5 457.3,464.1 458.7,463.6 460.0,464.3 461.3,464.2 462.7,464.3 464.0,464.3 465.3,464.3 466.7,464.3 468.0,464.3 469.3,464.3 470.7,463.5 472.0,464.3 474.0,462.8 476.0,464.3 477.3,464.3 478.6,463.6 480.0,463.6 481.3,464.3 482.6,463.9 483.9,464.3 485.2,463.5 486.6,463.8 487.9,464.3 489.2,463.5 490.5,464.3 491.8,464.3 493.2,463.8 494.5,464.3 495.8,464.3 497.1,464.3 498.4,464.3 499.8,464.3 501.1,463.4 502.4,463.7 503.7,464.3 505.0,464.3 506.4,463.8 507.7,464.3 509.0,464.3" fill="none" stroke="#000" stroke-width="2.4" stroke-linejoin="round" stroke-linecap="round"/></g>
<g clip-path="url(#cp5)"><polyline points="92.2,607.4 93.9,606.5 95.6,604.8 96.4,603.2 97.3,602.3 98.2,601.3 99.0,599.7 100.7,598.9 102.4,598.9 102.7,597.2 103.0,595.5 103.3,594.0 103.6,592.1 103.8,590.1 104.1,588.9 104.3,587.3 104.6,585.3 105.0,587.3 105.4,588.5 105.8,590.4 107.0,592.9 107.7,590.6 108.4,588.7 109.1,586.7 109.7,585.3 110.3,584.0 110.9,581.9 112.1,581.9 112.8,580.1 113.5,578.5 114.2,576.7 114.8,575.1 115.2,573.4 115.6,571.9 116.0,570.0 116.3,568.1 116.6,566.5 116.9,564.9 117.0,563.4 117.1,561.7 117.1,559.6 117.2,558.1 117.2,556.2 117.3,555.4 117.4,553.7 117.4,552.1 117.5,550.4 117.5,549.4 117.5,547.4 117.6,545.7 117.7,544.1 117.7,542.9 117.8,544.5 117.8,546.4 117.9,547.8 118.0,550.0 118.1,551.5 118.1,553.0 118.2,554.7 118.4,553.2 118.7,551.4 118.9,549.8 119.1,548.0 119.5,546.3 119.9,544.6 120.0,542.9 120.1,541.2 120.2,539.8 120.4,537.5 120.5,536.4 120.6,534.4 120.7,532.5 120.7,531.3 120.8,528.9 120.9,527.6 121.0,525.8 121.0,524.4 121.1,522.5 121.2,523.9 121.3,525.7 121.3,527.3 121.4,529.4 121.5,531.1 121.6,532.7 121.7,530.6 121.8,529.1 121.9,527.5 121.9,526.5 122.0,524.4 122.1,522.9 122.2,521.0 122.3,519.5 122.4,521.2 122.5,522.9 122.6,524.3 122.7,525.3 122.8,527.3 122.9,528.9 123.0,530.0 123.1,532.0 123.2,530.7 123.4,528.6 123.5,527.0 123.7,525.7 123.8,524.1 123.9,522.4 124.1,521.1 124.2,519.2 124.3,520.8 124.5,522.1 124.6,523.4 124.8,525.4 124.9,526.8 125.1,528.5 125.2,530.0 125.4,528.3 125.5,526.5 125.7,525.0 125.8,523.5 126.0,521.9 126.1,521.1 126.3,519.2 126.5,521.0 126.7,522.4 126.9,524.5 127.1,526.0 127.4,524.4 127.6,522.1 127.9,520.8 128.7,519.4 129.6,520.8 130.0,522.7 130.4,524.0 130.8,525.9 131.1,528.0 131.3,529.0 131.6,530.8 131.8,532.7 132.0,534.2 132.3,536.4 132.5,538.1 132.8,539.6 133.0,541.2 133.2,542.6 133.5,544.5 133.7,546.5 134.0,547.6 134.2,549.7 134.4,551.8 134.6,553.4 134.8,555.1 135.1,556.6 135.3,558.2 135.5,559.8 135.8,561.9 136.1,563.0 136.3,564.7 136.6,566.3 136.9,568.3 137.2,569.7 137.5,572.0 137.8,573.0 138.1,575.1 138.4,577.0 138.8,578.4 139.1,580.5 139.5,582.1 139.8,583.6 140.2,585.5 140.7,587.3 141.1,588.3 141.5,590.4 142.1,591.9 142.6,593.7 143.2,595.5 143.8,597.1 144.3,599.1 144.9,600.6 145.5,602.6 146.0,604.2 146.6,605.7 147.2,607.8 147.9,609.1 149.2,611.6 151.8,612.5 154.3,611.6 155.2,613.5 156.0,615.0 158.6,615.9 160.3,616.0 162.0,616.3 163.7,616.7 165.4,616.7 167.1,617.1 168.8,616.8 170.5,616.9 172.2,617.2 173.9,617.5 175.6,617.3 177.3,618.1 179.0,617.9 180.5,617.5 182.1,618.1 183.6,618.0 185.1,617.8 186.7,618.2 188.2,618.1 189.8,618.6 191.3,618.6 192.8,618.4 194.4,618.7 195.9,618.4 197.4,618.8 198.9,618.1 200.5,618.7 202.0,618.7 203.5,618.9 205.0,618.7 206.6,618.4 208.1,618.2 209.6,618.6 211.1,618.2 212.7,618.7 214.2,618.6 215.7,618.8 217.2,618.4 218.8,618.4 220.3,618.9 221.8,618.7 223.3,618.4 224.8,618.6 226.4,618.5 227.9,618.7 229.4,618.6 230.9,618.4 232.5,619.0 234.0,619.0 235.5,618.9 237.0,618.4 238.6,618.4 240.1,618.9 241.6,618.9 243.1,618.8 244.6,618.4 246.2,618.9 247.7,618.7 249.2,618.6 250.7,618.8 252.3,618.7 253.8,618.9 255.3,619.0 256.8,619.2 258.4,618.4 259.9,618.8 261.4,619.2 262.9,618.9 264.5,618.9 266.0,619.1 267.5,618.8" fill="none" stroke="#000" stroke-width="1.05" stroke-linejoin="round" stroke-linecap="round"/></g>
<g clip-path="url(#cp5)"><polyline points="92.2,616.7 93.9,616.5 95.6,617.9 96.7,617.8 97.9,616.8 99.0,615.9 100.3,616.9 101.6,617.6 103.3,616.8 105.0,616.7 106.7,617.5 108.4,617.9 110.1,616.6 111.8,616.7 113.5,617.0 115.2,617.2 116.9,616.5 118.6,616.7 120.3,617.1 122.0,615.9 124.5,615.5 126.2,614.2 127.9,612.5 129.6,611.6 131.3,613.3 133.0,612.5 133.8,614.3 134.7,615.0 136.4,614.2 138.1,615.9 139.8,615.0 140.7,613.3 141.5,611.6 142.1,610.8 142.7,609.1 144.0,610.8 145.7,609.9 146.7,610.8 147.6,608.9 148.4,607.4 149.1,605.7 149.8,604.0 150.4,605.1 150.9,607.4 151.1,606.7 151.4,605.2 151.6,603.8 151.9,601.2 152.1,600.6 152.4,599.8 152.7,597.0 152.9,596.6 153.2,595.1 153.5,593.8 154.3,591.3 155.2,590.4 156.9,588.7 157.2,587.3 157.6,586.8 157.9,585.1 158.2,583.6 158.5,582.0 158.8,581.6 159.1,579.5 159.4,578.5 159.6,577.9 159.9,575.6 160.1,573.7 160.4,573.9 160.6,571.7 160.8,569.6 161.0,568.5 161.2,568.1 161.4,565.6 161.6,564.9 162.8,564.1 163.2,565.6 163.6,567.5 164.0,568.3 165.4,570.0 165.7,571.4 166.1,572.3 166.4,574.3 166.7,575.1 167.0,577.0 167.3,577.8 167.6,579.2 167.9,580.2 168.3,581.2 168.8,582.6 169.2,584.9 169.6,585.3 170.4,587.8 171.3,588.7 172.2,589.5 173.0,592.1 173.8,593.3 174.7,595.5 175.6,596.3 176.4,598.0 178.1,598.9 178.9,600.7 179.8,601.4 180.7,599.2 181.5,598.0 182.1,596.0 182.6,595.7 183.2,593.8 184.1,594.9 184.9,597.2 185.8,596.4 186.6,593.8 187.4,592.0 188.3,590.4 190.0,588.7 190.1,588.0 190.2,586.4 190.3,583.8 190.5,583.4 190.6,581.3 190.7,579.5 190.8,578.5 191.0,576.3 191.1,576.0 191.2,574.4 191.4,572.5 191.5,572.0 191.7,570.0 192.0,568.2 192.3,567.4 192.6,565.4 192.9,564.9 193.6,562.9 194.2,561.5 194.5,560.8 194.8,558.8 195.0,556.8 195.3,555.6 195.6,554.7 196.8,556.4 197.1,557.9 197.4,558.5 197.7,560.9 198.0,561.5 198.3,559.0 198.7,558.8 199.0,556.4 200.2,555.5 200.4,557.3 200.7,559.2 200.9,559.9 201.2,560.9 201.4,563.2 201.7,563.9 201.9,566.0 202.2,566.2 202.5,568.3 202.7,569.0 203.0,571.5 203.2,573.1 203.5,574.4 203.7,575.1 203.9,577.1 204.1,578.0 204.2,580.0 204.4,581.1 204.6,582.3 204.8,583.6 205.1,584.7 205.4,585.3 205.6,586.7 205.9,588.7 206.5,589.9 207.1,592.1 207.4,593.4 207.7,594.1 207.9,597.0 208.2,597.7 208.5,598.9 209.2,597.6 209.8,595.5 210.4,594.5 211.0,592.1 211.4,590.2 211.8,590.0 212.2,587.9 212.7,587.3 213.1,584.6 213.6,583.6 214.9,581.9 215.5,582.9 216.1,585.3 216.6,587.5 217.0,588.7 217.8,587.7 218.7,585.3 220.0,587.0 220.6,588.8 221.2,589.6 222.9,588.7 223.8,589.8 224.6,591.3 226.3,592.1 228.0,593.8 228.8,595.7 229.7,597.2 230.1,597.8 230.6,599.3 231.0,600.9 231.4,602.3 231.8,604.0 232.2,604.1 232.7,606.9 233.1,607.4 233.9,607.8 234.8,609.9 235.7,612.0 236.5,612.5 237.6,613.3 238.7,615.0 239.7,616.4 240.7,616.7 242.0,617.5 243.3,617.2 244.6,618.6 245.8,618.4 247.5,618.5 249.2,619.2 250.9,619.0 252.2,618.6 253.5,619.6 254.8,618.3 256.1,619.7 257.4,619.2 258.7,618.3 260.1,619.7 261.4,618.7 262.7,618.3 264.0,618.6 265.3,618.2 266.6,618.7 267.9,619.1" fill="none" stroke="#000" stroke-width="2.4" stroke-linejoin="round" stroke-linecap="round"/></g>
<g clip-path="url(#cp6)"><polyline points="332.5,610.5 334.2,611.3 335.9,609.6 337.6,610.5 338.5,609.0 339.3,607.1 341.0,605.4 342.7,603.7 343.3,602.4 343.8,600.4 344.4,598.6 345.6,601.1 347.0,598.6 348.7,596.9 349.4,595.5 350.0,593.5 350.2,592.1 350.4,590.3 350.5,588.3 350.7,586.7 350.9,584.8 351.2,583.0 351.4,581.6 351.7,579.9 351.8,577.9 352.0,576.7 352.1,574.6 352.3,573.2 352.4,571.4 352.5,573.1 352.7,574.9 352.8,576.2 352.9,578.0 353.0,580.1 353.2,581.3 353.3,583.3 353.4,581.8 353.6,580.3 353.7,578.1 353.8,576.9 354.0,574.9 354.1,573.1 354.6,571.8 355.0,569.7 355.5,568.0 356.1,566.5 356.8,564.6 357.4,563.1 358.0,561.2 358.2,559.2 358.4,557.8 358.5,556.2 358.7,554.4 358.9,552.7 359.0,551.2 359.2,549.7 359.3,547.9 359.4,546.2 359.6,544.0 359.7,542.6 359.9,541.1 360.0,539.3 360.1,537.9 360.3,535.4 360.5,533.8 360.6,532.4 360.8,531.1 361.0,528.9 361.2,527.5 361.4,525.6 361.7,524.0 362.0,522.1 362.3,520.5 363.1,517.8 364.7,517.7 366.2,517.9 367.8,518.2 369.3,517.8 370.8,518.1 372.4,517.8 372.9,519.8 373.3,522.2 373.5,524.1 373.7,525.7 373.9,527.5 374.1,529.0 374.3,531.0 374.5,532.0 374.6,534.5 374.8,535.9 375.0,537.5 375.2,539.0 375.3,540.9 375.5,542.2 375.6,544.1 375.8,546.0 376.0,548.0 376.2,549.6 376.3,551.4 376.5,552.4 376.7,554.4 376.9,555.7 377.0,557.7 377.2,559.5 377.3,561.4 377.5,562.9 377.7,564.4 378.0,566.5 378.2,568.1 378.5,569.5 378.7,571.4 379.0,573.4 379.3,574.4 379.5,576.6 379.8,577.9 380.1,579.9 380.5,581.2 381.0,583.3 381.4,585.0 381.8,586.7 382.2,588.5 382.6,590.0 383.1,592.2 383.5,593.5 383.9,595.5 384.4,596.6 384.8,598.2 385.2,600.3 386.7,602.0 387.4,604.5 388.1,606.2 388.6,607.8 389.2,609.6 390.0,610.5 390.9,612.2 391.8,610.6 392.6,609.6 393.5,611.1 394.3,612.2 395.6,612.8 396.9,613.9 398.6,614.4 400.3,615.2 402.0,615.6 403.7,615.5 405.4,615.9 407.1,616.2 408.8,616.6 410.5,616.5 412.2,616.4 413.9,616.6 415.6,616.8 417.3,616.6 419.0,616.9 420.5,617.0 422.1,617.1 423.6,617.0 425.1,617.0 426.6,617.2 428.2,616.8 429.7,617.3 431.2,617.5 432.8,616.7 434.3,616.9 435.8,617.6 437.4,616.8 438.9,617.5 440.4,617.3 441.9,616.9 443.5,617.4 445.0,617.3 446.5,616.9 448.0,617.6 449.6,617.1 451.1,617.7 452.6,617.7 454.1,617.0 455.7,617.2 457.2,617.0 458.7,617.6 460.2,617.0 461.8,617.0 463.3,617.0 464.8,617.7 466.3,617.1 467.9,617.2 469.4,617.3 470.9,617.4 472.4,617.3 474.0,617.8 475.5,617.3 477.0,617.4 478.5,617.7 480.0,617.2 481.6,617.1 483.1,617.7 484.6,617.3 486.1,617.8 487.7,617.7 489.2,617.3 490.7,617.3 492.2,617.1 493.8,617.8 495.3,617.4 496.8,617.3 498.3,617.2 499.9,617.2 501.4,617.8 502.9,617.1 504.4,617.5 506.0,617.6 507.5,617.5 509.0,617.5" fill="none" stroke="#000" stroke-width="1.05" stroke-linejoin="round" stroke-linecap="round"/></g>
<g clip-path="url(#cp6)"><polyline points="332.5,613.9 334.2,614.3 335.9,614.7 337.6,614.1 339.3,613.9 341.0,613.1 342.7,613.5 344.4,613.8 346.1,613.0 347.4,613.3 348.7,612.2 349.5,610.6 350.4,608.8 351.2,607.1 352.1,606.2 353.8,605.4 355.5,603.7 356.1,602.7 356.8,600.3 357.1,598.5 357.4,597.2 357.7,596.7 358.0,595.2 358.3,594.5 358.6,592.8 358.9,590.7 359.2,590.1 359.5,589.3 359.9,586.1 360.2,585.0 360.5,583.4 360.8,583.3 361.1,581.7 361.4,579.9 361.7,579.1 362.0,576.6 362.3,576.7 362.6,574.8 362.8,573.3 363.0,571.2 363.2,571.2 363.4,570.1 363.6,568.0 363.8,565.8 364.0,565.1 364.2,564.5 364.4,562.0 364.6,560.6 364.8,559.5 365.1,558.7 365.4,556.8 365.7,556.6 366.0,554.4 366.3,553.4 366.7,551.7 367.0,549.4 367.1,548.4 367.3,546.1 367.4,545.7 367.6,544.1 367.7,542.6 367.9,541.2 368.1,540.0 368.3,538.2 368.5,536.6 368.7,535.8 369.3,534.8 369.9,532.4 371.6,533.2 372.2,534.3 372.8,535.8 373.1,536.8 373.5,540.1 373.8,540.9 374.0,542.6 374.3,544.6 374.5,546.0 374.7,547.1 374.9,548.0 375.1,549.7 375.3,552.0 375.5,552.7 375.7,553.7 376.0,556.2 376.2,556.4 376.5,558.9 376.7,559.5 376.9,560.3 377.2,562.1 377.4,562.9 377.7,564.3 377.9,566.3 378.2,567.6 378.5,568.6 378.9,570.2 379.2,571.4 379.9,572.6 380.6,574.8 381.2,576.2 381.8,578.2 383.0,579.9 383.6,577.9 384.3,576.5 386.0,578.2 386.9,577.7 387.7,575.7 388.0,576.6 388.4,579.1 390.1,578.2 391.8,579.9 393.5,580.8 395.2,579.1 396.0,580.2 396.9,581.6 398.2,583.3 398.6,585.3 399.0,586.2 399.4,587.5 400.0,588.4 400.6,590.1 401.3,589.3 402.0,586.7 402.6,584.3 403.3,583.3 404.5,581.6 406.2,581.3 407.9,582.5 409.6,583.3 411.3,585.0 411.9,586.0 412.5,588.4 412.9,588.8 413.2,590.8 413.5,592.9 413.9,593.5 414.5,594.8 415.2,596.9 415.8,598.2 416.4,600.3 417.0,602.5 417.6,603.7 418.3,604.2 419.0,606.2 420.7,607.9 422.4,609.6 423.6,610.0 424.9,612.2 426.1,613.3 427.4,613.9 429.1,614.0 430.8,615.6 432.5,615.9 434.2,615.5 435.9,616.4 437.2,616.7 438.5,617.2 439.8,616.5 441.1,616.3 442.4,617.0 443.7,617.2 445.0,616.9 446.3,616.2 447.6,616.6 448.9,616.9 450.2,617.2 451.5,616.8 452.8,617.6 454.1,616.9 455.4,617.4 456.8,618.1 458.2,617.2 459.5,617.0 460.9,616.7 462.3,616.8 463.7,617.0 465.1,618.2 466.4,617.4 467.8,617.5 469.2,617.6 470.6,618.4 471.9,618.4 473.2,618.0 474.6,617.1 475.9,617.2 477.3,617.5 478.6,617.0 480.0,617.2 481.3,616.9 482.7,617.0 484.0,617.9 485.4,617.4 486.7,617.6 488.1,617.3 489.4,617.4 490.8,617.6 492.1,617.8 493.5,616.6 494.8,618.1 496.2,617.4 497.5,617.2 498.8,618.3 500.2,618.0 501.5,617.3 502.9,616.7 504.2,617.4 505.6,617.5 506.9,617.4 508.3,616.9 509.6,617.6" fill="none" stroke="#000" stroke-width="2.4" stroke-linejoin="round" stroke-linecap="round"/></g>
<polygon points="370.8,363.3 381.8,363.3 381.6,368 380.6,372 379.8,375.5 376,376.5 372.3,375.5 371.6,370" fill="#222"/>
<polygon points="369,531.6 373.5,531.8 375,535 375.7,537 375.5,540.5 372,542.3 369.8,542.3 368.3,540 368,536" fill="#222"/>
</svg></body></html>
